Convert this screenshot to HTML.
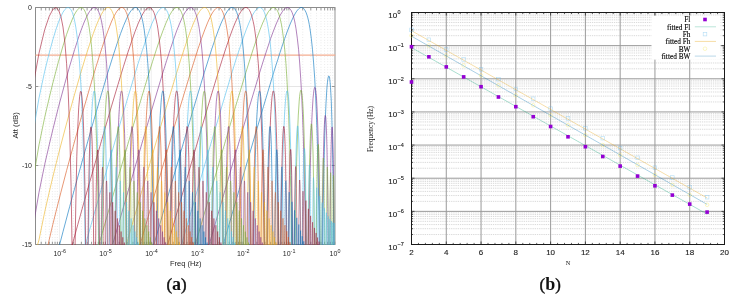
<!DOCTYPE html><html><head><meta charset="utf-8"><style>html,body{margin:0;padding:0;background:#fff;width:732px;height:299px;overflow:hidden;position:relative}</style></head><body><svg width="732" height="299" viewBox="0 0 732 299" style="position:absolute;left:0;top:0;will-change:transform">
<defs><clipPath id="cl"><rect x="35.2" y="7" width="300" height="238"/></clipPath><clipPath id="cr"><rect x="411.5" y="12.5" width="313" height="231.5"/></clipPath></defs>
<line x1="35.5" y1="7.5" x2="35.5" y2="244.5" stroke="#c8c8c8" stroke-width="0.6" stroke-dasharray="0.6 2.1"/><line x1="41.23" y1="7.5" x2="41.23" y2="244.5" stroke="#c8c8c8" stroke-width="0.6" stroke-dasharray="0.6 2.1"/><line x1="45.68" y1="7.5" x2="45.68" y2="244.5" stroke="#c8c8c8" stroke-width="0.6" stroke-dasharray="0.6 2.1"/><line x1="49.31" y1="7.5" x2="49.31" y2="244.5" stroke="#c8c8c8" stroke-width="0.6" stroke-dasharray="0.6 2.1"/><line x1="52.38" y1="7.5" x2="52.38" y2="244.5" stroke="#c8c8c8" stroke-width="0.6" stroke-dasharray="0.6 2.1"/><line x1="55.05" y1="7.5" x2="55.05" y2="244.5" stroke="#c8c8c8" stroke-width="0.6" stroke-dasharray="0.6 2.1"/><line x1="57.39" y1="7.5" x2="57.39" y2="244.5" stroke="#c8c8c8" stroke-width="0.6" stroke-dasharray="0.6 2.1"/><line x1="59.49" y1="7.5" x2="59.49" y2="244.5" stroke="#e6e6e6" stroke-width="0.7"/><line x1="73.3" y1="7.5" x2="73.3" y2="244.5" stroke="#c8c8c8" stroke-width="0.6" stroke-dasharray="0.6 2.1"/><line x1="81.38" y1="7.5" x2="81.38" y2="244.5" stroke="#c8c8c8" stroke-width="0.6" stroke-dasharray="0.6 2.1"/><line x1="87.12" y1="7.5" x2="87.12" y2="244.5" stroke="#c8c8c8" stroke-width="0.6" stroke-dasharray="0.6 2.1"/><line x1="91.56" y1="7.5" x2="91.56" y2="244.5" stroke="#c8c8c8" stroke-width="0.6" stroke-dasharray="0.6 2.1"/><line x1="95.2" y1="7.5" x2="95.2" y2="244.5" stroke="#c8c8c8" stroke-width="0.6" stroke-dasharray="0.6 2.1"/><line x1="98.27" y1="7.5" x2="98.27" y2="244.5" stroke="#c8c8c8" stroke-width="0.6" stroke-dasharray="0.6 2.1"/><line x1="100.93" y1="7.5" x2="100.93" y2="244.5" stroke="#c8c8c8" stroke-width="0.6" stroke-dasharray="0.6 2.1"/><line x1="103.28" y1="7.5" x2="103.28" y2="244.5" stroke="#c8c8c8" stroke-width="0.6" stroke-dasharray="0.6 2.1"/><line x1="105.38" y1="7.5" x2="105.38" y2="244.5" stroke="#e6e6e6" stroke-width="0.7"/><line x1="119.19" y1="7.5" x2="119.19" y2="244.5" stroke="#c8c8c8" stroke-width="0.6" stroke-dasharray="0.6 2.1"/><line x1="127.27" y1="7.5" x2="127.27" y2="244.5" stroke="#c8c8c8" stroke-width="0.6" stroke-dasharray="0.6 2.1"/><line x1="133" y1="7.5" x2="133" y2="244.5" stroke="#c8c8c8" stroke-width="0.6" stroke-dasharray="0.6 2.1"/><line x1="137.45" y1="7.5" x2="137.45" y2="244.5" stroke="#c8c8c8" stroke-width="0.6" stroke-dasharray="0.6 2.1"/><line x1="141.08" y1="7.5" x2="141.08" y2="244.5" stroke="#c8c8c8" stroke-width="0.6" stroke-dasharray="0.6 2.1"/><line x1="144.15" y1="7.5" x2="144.15" y2="244.5" stroke="#c8c8c8" stroke-width="0.6" stroke-dasharray="0.6 2.1"/><line x1="146.81" y1="7.5" x2="146.81" y2="244.5" stroke="#c8c8c8" stroke-width="0.6" stroke-dasharray="0.6 2.1"/><line x1="149.16" y1="7.5" x2="149.16" y2="244.5" stroke="#c8c8c8" stroke-width="0.6" stroke-dasharray="0.6 2.1"/><line x1="151.26" y1="7.5" x2="151.26" y2="244.5" stroke="#e6e6e6" stroke-width="0.7"/><line x1="165.07" y1="7.5" x2="165.07" y2="244.5" stroke="#c8c8c8" stroke-width="0.6" stroke-dasharray="0.6 2.1"/><line x1="173.15" y1="7.5" x2="173.15" y2="244.5" stroke="#c8c8c8" stroke-width="0.6" stroke-dasharray="0.6 2.1"/><line x1="178.89" y1="7.5" x2="178.89" y2="244.5" stroke="#c8c8c8" stroke-width="0.6" stroke-dasharray="0.6 2.1"/><line x1="183.33" y1="7.5" x2="183.33" y2="244.5" stroke="#c8c8c8" stroke-width="0.6" stroke-dasharray="0.6 2.1"/><line x1="186.97" y1="7.5" x2="186.97" y2="244.5" stroke="#c8c8c8" stroke-width="0.6" stroke-dasharray="0.6 2.1"/><line x1="190.04" y1="7.5" x2="190.04" y2="244.5" stroke="#c8c8c8" stroke-width="0.6" stroke-dasharray="0.6 2.1"/><line x1="192.7" y1="7.5" x2="192.7" y2="244.5" stroke="#c8c8c8" stroke-width="0.6" stroke-dasharray="0.6 2.1"/><line x1="195.05" y1="7.5" x2="195.05" y2="244.5" stroke="#c8c8c8" stroke-width="0.6" stroke-dasharray="0.6 2.1"/><line x1="197.15" y1="7.5" x2="197.15" y2="244.5" stroke="#e6e6e6" stroke-width="0.7"/><line x1="210.96" y1="7.5" x2="210.96" y2="244.5" stroke="#c8c8c8" stroke-width="0.6" stroke-dasharray="0.6 2.1"/><line x1="219.04" y1="7.5" x2="219.04" y2="244.5" stroke="#c8c8c8" stroke-width="0.6" stroke-dasharray="0.6 2.1"/><line x1="224.77" y1="7.5" x2="224.77" y2="244.5" stroke="#c8c8c8" stroke-width="0.6" stroke-dasharray="0.6 2.1"/><line x1="229.22" y1="7.5" x2="229.22" y2="244.5" stroke="#c8c8c8" stroke-width="0.6" stroke-dasharray="0.6 2.1"/><line x1="232.85" y1="7.5" x2="232.85" y2="244.5" stroke="#c8c8c8" stroke-width="0.6" stroke-dasharray="0.6 2.1"/><line x1="235.92" y1="7.5" x2="235.92" y2="244.5" stroke="#c8c8c8" stroke-width="0.6" stroke-dasharray="0.6 2.1"/><line x1="238.58" y1="7.5" x2="238.58" y2="244.5" stroke="#c8c8c8" stroke-width="0.6" stroke-dasharray="0.6 2.1"/><line x1="240.93" y1="7.5" x2="240.93" y2="244.5" stroke="#c8c8c8" stroke-width="0.6" stroke-dasharray="0.6 2.1"/><line x1="243.03" y1="7.5" x2="243.03" y2="244.5" stroke="#e6e6e6" stroke-width="0.7"/><line x1="256.84" y1="7.5" x2="256.84" y2="244.5" stroke="#c8c8c8" stroke-width="0.6" stroke-dasharray="0.6 2.1"/><line x1="264.92" y1="7.5" x2="264.92" y2="244.5" stroke="#c8c8c8" stroke-width="0.6" stroke-dasharray="0.6 2.1"/><line x1="270.66" y1="7.5" x2="270.66" y2="244.5" stroke="#c8c8c8" stroke-width="0.6" stroke-dasharray="0.6 2.1"/><line x1="275.1" y1="7.5" x2="275.1" y2="244.5" stroke="#c8c8c8" stroke-width="0.6" stroke-dasharray="0.6 2.1"/><line x1="278.74" y1="7.5" x2="278.74" y2="244.5" stroke="#c8c8c8" stroke-width="0.6" stroke-dasharray="0.6 2.1"/><line x1="281.81" y1="7.5" x2="281.81" y2="244.5" stroke="#c8c8c8" stroke-width="0.6" stroke-dasharray="0.6 2.1"/><line x1="284.47" y1="7.5" x2="284.47" y2="244.5" stroke="#c8c8c8" stroke-width="0.6" stroke-dasharray="0.6 2.1"/><line x1="286.82" y1="7.5" x2="286.82" y2="244.5" stroke="#c8c8c8" stroke-width="0.6" stroke-dasharray="0.6 2.1"/><line x1="288.92" y1="7.5" x2="288.92" y2="244.5" stroke="#e6e6e6" stroke-width="0.7"/><line x1="302.73" y1="7.5" x2="302.73" y2="244.5" stroke="#c8c8c8" stroke-width="0.6" stroke-dasharray="0.6 2.1"/><line x1="310.81" y1="7.5" x2="310.81" y2="244.5" stroke="#c8c8c8" stroke-width="0.6" stroke-dasharray="0.6 2.1"/><line x1="316.54" y1="7.5" x2="316.54" y2="244.5" stroke="#c8c8c8" stroke-width="0.6" stroke-dasharray="0.6 2.1"/><line x1="320.99" y1="7.5" x2="320.99" y2="244.5" stroke="#c8c8c8" stroke-width="0.6" stroke-dasharray="0.6 2.1"/><line x1="324.62" y1="7.5" x2="324.62" y2="244.5" stroke="#c8c8c8" stroke-width="0.6" stroke-dasharray="0.6 2.1"/><line x1="327.69" y1="7.5" x2="327.69" y2="244.5" stroke="#c8c8c8" stroke-width="0.6" stroke-dasharray="0.6 2.1"/><line x1="330.35" y1="7.5" x2="330.35" y2="244.5" stroke="#c8c8c8" stroke-width="0.6" stroke-dasharray="0.6 2.1"/><line x1="332.7" y1="7.5" x2="332.7" y2="244.5" stroke="#c8c8c8" stroke-width="0.6" stroke-dasharray="0.6 2.1"/><line x1="35.5" y1="86.5" x2="334.8" y2="86.5" stroke="#dedede" stroke-width="0.8"/><line x1="35.5" y1="165.5" x2="334.8" y2="165.5" stroke="#dedede" stroke-width="0.8"/>
<g stroke="#8c8c8c" stroke-width="0.9"><path d="M335,7.5H35.5V244.5H335" fill="none" stroke="#8c8c8c" stroke-width="1"/><line x1="335" y1="7.0" x2="335" y2="245.0" stroke="#a6a6a6" stroke-width="1.2"/><line x1="35.5" y1="7.5" x2="35.5" y2="10.3"/><line x1="35.5" y1="244.5" x2="35.5" y2="241.7"/><line x1="41.23" y1="7.5" x2="41.23" y2="10.3"/><line x1="41.23" y1="244.5" x2="41.23" y2="241.7"/><line x1="45.68" y1="7.5" x2="45.68" y2="10.3"/><line x1="45.68" y1="244.5" x2="45.68" y2="241.7"/><line x1="49.31" y1="7.5" x2="49.31" y2="10.3"/><line x1="49.31" y1="244.5" x2="49.31" y2="241.7"/><line x1="52.38" y1="7.5" x2="52.38" y2="10.3"/><line x1="52.38" y1="244.5" x2="52.38" y2="241.7"/><line x1="55.05" y1="7.5" x2="55.05" y2="10.3"/><line x1="55.05" y1="244.5" x2="55.05" y2="241.7"/><line x1="57.39" y1="7.5" x2="57.39" y2="10.3"/><line x1="57.39" y1="244.5" x2="57.39" y2="241.7"/><line x1="59.49" y1="7.5" x2="59.49" y2="10.3"/><line x1="59.49" y1="244.5" x2="59.49" y2="241.7"/><line x1="73.3" y1="7.5" x2="73.3" y2="10.3"/><line x1="73.3" y1="244.5" x2="73.3" y2="241.7"/><line x1="81.38" y1="7.5" x2="81.38" y2="10.3"/><line x1="81.38" y1="244.5" x2="81.38" y2="241.7"/><line x1="87.12" y1="7.5" x2="87.12" y2="10.3"/><line x1="87.12" y1="244.5" x2="87.12" y2="241.7"/><line x1="91.56" y1="7.5" x2="91.56" y2="10.3"/><line x1="91.56" y1="244.5" x2="91.56" y2="241.7"/><line x1="95.2" y1="7.5" x2="95.2" y2="10.3"/><line x1="95.2" y1="244.5" x2="95.2" y2="241.7"/><line x1="98.27" y1="7.5" x2="98.27" y2="10.3"/><line x1="98.27" y1="244.5" x2="98.27" y2="241.7"/><line x1="100.93" y1="7.5" x2="100.93" y2="10.3"/><line x1="100.93" y1="244.5" x2="100.93" y2="241.7"/><line x1="103.28" y1="7.5" x2="103.28" y2="10.3"/><line x1="103.28" y1="244.5" x2="103.28" y2="241.7"/><line x1="105.38" y1="7.5" x2="105.38" y2="10.3"/><line x1="105.38" y1="244.5" x2="105.38" y2="241.7"/><line x1="119.19" y1="7.5" x2="119.19" y2="10.3"/><line x1="119.19" y1="244.5" x2="119.19" y2="241.7"/><line x1="127.27" y1="7.5" x2="127.27" y2="10.3"/><line x1="127.27" y1="244.5" x2="127.27" y2="241.7"/><line x1="133" y1="7.5" x2="133" y2="10.3"/><line x1="133" y1="244.5" x2="133" y2="241.7"/><line x1="137.45" y1="7.5" x2="137.45" y2="10.3"/><line x1="137.45" y1="244.5" x2="137.45" y2="241.7"/><line x1="141.08" y1="7.5" x2="141.08" y2="10.3"/><line x1="141.08" y1="244.5" x2="141.08" y2="241.7"/><line x1="144.15" y1="7.5" x2="144.15" y2="10.3"/><line x1="144.15" y1="244.5" x2="144.15" y2="241.7"/><line x1="146.81" y1="7.5" x2="146.81" y2="10.3"/><line x1="146.81" y1="244.5" x2="146.81" y2="241.7"/><line x1="149.16" y1="7.5" x2="149.16" y2="10.3"/><line x1="149.16" y1="244.5" x2="149.16" y2="241.7"/><line x1="151.26" y1="7.5" x2="151.26" y2="10.3"/><line x1="151.26" y1="244.5" x2="151.26" y2="241.7"/><line x1="165.07" y1="7.5" x2="165.07" y2="10.3"/><line x1="165.07" y1="244.5" x2="165.07" y2="241.7"/><line x1="173.15" y1="7.5" x2="173.15" y2="10.3"/><line x1="173.15" y1="244.5" x2="173.15" y2="241.7"/><line x1="178.89" y1="7.5" x2="178.89" y2="10.3"/><line x1="178.89" y1="244.5" x2="178.89" y2="241.7"/><line x1="183.33" y1="7.5" x2="183.33" y2="10.3"/><line x1="183.33" y1="244.5" x2="183.33" y2="241.7"/><line x1="186.97" y1="7.5" x2="186.97" y2="10.3"/><line x1="186.97" y1="244.5" x2="186.97" y2="241.7"/><line x1="190.04" y1="7.5" x2="190.04" y2="10.3"/><line x1="190.04" y1="244.5" x2="190.04" y2="241.7"/><line x1="192.7" y1="7.5" x2="192.7" y2="10.3"/><line x1="192.7" y1="244.5" x2="192.7" y2="241.7"/><line x1="195.05" y1="7.5" x2="195.05" y2="10.3"/><line x1="195.05" y1="244.5" x2="195.05" y2="241.7"/><line x1="197.15" y1="7.5" x2="197.15" y2="10.3"/><line x1="197.15" y1="244.5" x2="197.15" y2="241.7"/><line x1="210.96" y1="7.5" x2="210.96" y2="10.3"/><line x1="210.96" y1="244.5" x2="210.96" y2="241.7"/><line x1="219.04" y1="7.5" x2="219.04" y2="10.3"/><line x1="219.04" y1="244.5" x2="219.04" y2="241.7"/><line x1="224.77" y1="7.5" x2="224.77" y2="10.3"/><line x1="224.77" y1="244.5" x2="224.77" y2="241.7"/><line x1="229.22" y1="7.5" x2="229.22" y2="10.3"/><line x1="229.22" y1="244.5" x2="229.22" y2="241.7"/><line x1="232.85" y1="7.5" x2="232.85" y2="10.3"/><line x1="232.85" y1="244.5" x2="232.85" y2="241.7"/><line x1="235.92" y1="7.5" x2="235.92" y2="10.3"/><line x1="235.92" y1="244.5" x2="235.92" y2="241.7"/><line x1="238.58" y1="7.5" x2="238.58" y2="10.3"/><line x1="238.58" y1="244.5" x2="238.58" y2="241.7"/><line x1="240.93" y1="7.5" x2="240.93" y2="10.3"/><line x1="240.93" y1="244.5" x2="240.93" y2="241.7"/><line x1="243.03" y1="7.5" x2="243.03" y2="10.3"/><line x1="243.03" y1="244.5" x2="243.03" y2="241.7"/><line x1="256.84" y1="7.5" x2="256.84" y2="10.3"/><line x1="256.84" y1="244.5" x2="256.84" y2="241.7"/><line x1="264.92" y1="7.5" x2="264.92" y2="10.3"/><line x1="264.92" y1="244.5" x2="264.92" y2="241.7"/><line x1="270.66" y1="7.5" x2="270.66" y2="10.3"/><line x1="270.66" y1="244.5" x2="270.66" y2="241.7"/><line x1="275.1" y1="7.5" x2="275.1" y2="10.3"/><line x1="275.1" y1="244.5" x2="275.1" y2="241.7"/><line x1="278.74" y1="7.5" x2="278.74" y2="10.3"/><line x1="278.74" y1="244.5" x2="278.74" y2="241.7"/><line x1="281.81" y1="7.5" x2="281.81" y2="10.3"/><line x1="281.81" y1="244.5" x2="281.81" y2="241.7"/><line x1="284.47" y1="7.5" x2="284.47" y2="10.3"/><line x1="284.47" y1="244.5" x2="284.47" y2="241.7"/><line x1="286.82" y1="7.5" x2="286.82" y2="10.3"/><line x1="286.82" y1="244.5" x2="286.82" y2="241.7"/><line x1="288.92" y1="7.5" x2="288.92" y2="10.3"/><line x1="288.92" y1="244.5" x2="288.92" y2="241.7"/><line x1="302.73" y1="7.5" x2="302.73" y2="10.3"/><line x1="302.73" y1="244.5" x2="302.73" y2="241.7"/><line x1="310.81" y1="7.5" x2="310.81" y2="10.3"/><line x1="310.81" y1="244.5" x2="310.81" y2="241.7"/><line x1="316.54" y1="7.5" x2="316.54" y2="10.3"/><line x1="316.54" y1="244.5" x2="316.54" y2="241.7"/><line x1="320.99" y1="7.5" x2="320.99" y2="10.3"/><line x1="320.99" y1="244.5" x2="320.99" y2="241.7"/><line x1="324.62" y1="7.5" x2="324.62" y2="10.3"/><line x1="324.62" y1="244.5" x2="324.62" y2="241.7"/><line x1="327.69" y1="7.5" x2="327.69" y2="10.3"/><line x1="327.69" y1="244.5" x2="327.69" y2="241.7"/><line x1="330.35" y1="7.5" x2="330.35" y2="10.3"/><line x1="330.35" y1="244.5" x2="330.35" y2="241.7"/><line x1="332.7" y1="7.5" x2="332.7" y2="10.3"/><line x1="332.7" y1="244.5" x2="332.7" y2="241.7"/><line x1="334.8" y1="7.5" x2="334.8" y2="10.3"/><line x1="334.8" y1="244.5" x2="334.8" y2="241.7"/><line x1="35.5" y1="7.5" x2="38.3" y2="7.5"/><line x1="334.8" y1="7.5" x2="332.0" y2="7.5"/><line x1="35.5" y1="86.5" x2="38.3" y2="86.5"/><line x1="334.8" y1="86.5" x2="332.0" y2="86.5"/><line x1="35.5" y1="165.5" x2="38.3" y2="165.5"/><line x1="334.8" y1="165.5" x2="332.0" y2="165.5"/><line x1="35.5" y1="244.5" x2="38.3" y2="244.5"/><line x1="334.8" y1="244.5" x2="332.0" y2="244.5"/></g>
<line x1="35.5" y1="55.2" x2="335.3" y2="55.2" stroke="#f3ad90" stroke-width="1.25"/>
<g clip-path="url(#cl)" fill="none" stroke-linejoin="round">
<path stroke="#0072BD" stroke-width="0.6" d="M222.3,247.7 249.2,155.2 263.5,106.4 273.6,72.7 277.7,59.8 281.2,48.9 284.7,38.6 287.8,30.0 290.6,23.0 293.2,17.3 294.4,15.0 295.5,13.0 296.6,11.3 297.7,9.9 298.7,8.9 299.6,8.1 300.6,7.6 301.5,7.5 302.0,7.6 302.5,7.7 303.5,8.3 304.4,9.4 305.3,10.9 306.2,12.8 307.0,15.1 307.8,17.8 308.6,21.0 309.3,24.7 310.0,28.8 311.3,38.3 312.5,49.7 313.6,62.9 314.7,78.2 315.6,95.5 316.4,115.0 317.2,136.5 317.8,161.0 318.4,187.2 318.9,215.7 319.4,247.7 M322.6,248.5 323.1,211.6 323.7,178.2 324.4,148.7 325.1,123.8 326.0,103.2 326.9,88.2 327.4,82.8 327.9,78.9 328.4,76.6 328.6,76.0 328.8,75.9 329.1,76.1 329.3,76.6 329.7,78.8 330.1,82.4 330.5,87.3 331.3,101.2 331.9,120.8 332.5,145.8 333.0,174.9 333.5,208.7 333.8,249.2"/>
<path stroke="#0072BD" stroke-width="0.45" stroke-opacity="1" d=""/>
<path stroke="#7E2F8E" stroke-width="0.6" d="M208.3,247.7 235.1,155.3 249.5,106.5 259.6,72.8 263.6,59.9 267.2,48.9 270.6,38.6 273.8,30.0 276.6,23.0 279.1,17.4 280.3,15.0 281.5,13.0 282.6,11.3 283.6,9.9 284.6,8.9 285.6,8.1 286.6,7.7 287.5,7.5 288.0,7.6 288.5,7.7 289.5,8.3 290.4,9.4 291.3,10.8 292.2,12.7 293.0,15.0 293.8,17.8 294.6,20.9 295.3,24.6 296.0,28.6 297.3,38.2 298.6,49.7 299.7,63.0 300.7,78.2 301.7,95.6 302.5,114.9 303.3,136.6 303.9,160.7 304.5,187.3 305.1,216.4 305.5,247.7 M308.8,248.1 309.3,213.0 309.9,182.1 310.6,155.2 311.3,131.7 312.2,112.5 313.0,98.7 313.5,93.8 313.9,90.2 314.4,88.1 314.6,87.5 314.8,87.4 315.1,87.6 315.3,88.0 315.7,90.1 316.1,93.3 316.5,98.0 317.2,111.2 317.9,129.5 318.5,152.5 319.0,180.0 319.5,211.6 319.8,248.8 M322.1,249.3 322.7,192.9 323.5,151.4 323.9,135.8 324.4,124.6 324.8,117.9 325.1,116.1 325.2,115.7 325.3,115.5 325.5,116.1 325.8,117.6 326.2,124.2 326.6,135.1 327.0,150.0 327.7,191.4 328.2,248.8 M329.9,248.3 330.4,196.3 330.9,158.8 331.2,144.8 331.5,135.0 331.8,128.9 332.0,127.4 332.1,127.0 332.3,127.6 332.4,129.3 332.7,135.7 333.0,145.8 333.3,159.6 333.7,197.9 334.1,249.0"/>
<path stroke="#7E2F8E" stroke-width="0.45" stroke-opacity="1" d=""/>
<path stroke="#77AC30" stroke-width="0.6" d="M194.4,247.7 221.3,155.2 235.6,106.4 245.8,72.7 249.8,59.8 253.3,48.8 256.8,38.6 259.9,30.0 262.7,23.0 265.3,17.3 266.5,15.0 267.6,13.0 268.7,11.3 269.8,9.9 270.8,8.9 271.8,8.1 272.7,7.6 273.6,7.5 274.1,7.6 274.6,7.7 275.6,8.3 276.6,9.4 277.5,10.9 278.3,12.7 279.2,15.1 280.0,17.9 280.7,21.1 281.5,24.8 282.2,28.8 283.5,38.4 284.8,50.0 285.9,63.3 286.9,78.6 287.8,96.0 288.7,115.4 289.4,137.1 290.1,161.2 290.7,187.7 291.2,216.8 291.7,248.0 M295.0,248.5 295.5,213.7 296.1,183.1 296.8,156.4 297.5,133.7 298.3,115.1 299.2,101.2 299.6,96.4 300.1,92.8 300.5,90.8 300.8,90.3 301.0,90.1 301.2,90.3 301.4,90.7 301.8,92.7 302.2,96.0 302.6,100.6 303.4,113.6 304.0,131.1 304.6,153.5 305.1,180.2 305.6,212.1 306.0,248.1 M308.3,249.2 308.9,197.0 309.7,157.8 310.1,143.2 310.5,132.6 311.0,126.1 311.2,124.4 311.5,123.9 311.6,124.0 311.7,124.4 311.9,125.9 312.3,132.0 312.7,141.9 313.1,156.0 313.8,195.1 314.3,248.0 M316.2,248.9 316.6,206.0 317.1,172.4 317.4,160.0 317.7,151.5 317.9,146.3 318.1,144.8 318.2,144.4 318.4,144.9 318.5,146.2 318.8,151.4 319.3,171.9 319.8,203.8 320.2,249.3"/>
<path stroke="#77AC30" stroke-width="0.45" stroke-opacity="1" d="M321.8,247.9 322.1,210.8 322.5,182.2 322.9,164.3 323.1,159.8 323.2,158.6 323.3,158.0 323.4,158.4 323.5,159.6 323.7,164.0 324.1,181.5 324.4,210.1 324.7,248.0 M326.1,248.3 326.4,214.6 326.7,189.0 327.0,172.5 327.1,168.4 327.3,167.1 327.5,168.3 327.6,172.3 327.9,188.1 328.2,212.7 328.4,248.9 M329.7,250.1 330.1,192.9 330.4,177.7 330.5,174.2 330.6,172.7 330.8,174.0 330.9,177.5 331.1,191.7 331.6,248.4 M332.7,250.1 333.1,194.5 333.3,180.1 333.4,176.8 333.5,175.4 333.6,176.7 333.7,180.0 333.9,195.1 334.3,252.0"/>
<path stroke="#4DBEEE" stroke-width="0.6" d="M180.6,247.7 207.4,155.6 221.8,106.5 231.9,72.7 235.9,59.8 239.5,48.9 243.0,38.6 246.1,30.0 248.9,23.0 251.4,17.3 252.6,15.0 253.8,13.0 254.9,11.3 255.9,9.9 257.0,8.9 257.9,8.1 258.9,7.7 259.8,7.5 260.3,7.6 260.8,7.7 261.8,8.3 262.7,9.4 263.6,10.8 264.5,12.7 265.3,15.0 266.1,17.8 266.9,21.0 267.6,24.7 268.3,28.7 269.7,38.3 270.9,49.8 272.0,63.1 273.1,78.6 274.0,96.0 274.9,115.4 275.6,137.0 276.3,161.1 276.9,187.6 277.4,216.5 277.9,247.7 M281.2,247.8 281.7,213.3 282.3,182.9 283.0,156.4 283.7,133.8 284.5,115.3 285.4,101.9 285.8,97.1 286.3,93.5 286.7,91.4 286.9,90.9 287.2,90.8 287.4,90.9 287.6,91.4 288.0,93.4 288.4,96.6 288.8,101.1 289.5,113.9 290.2,131.8 290.8,154.2 291.3,180.8 291.8,212.6 292.2,248.4 M294.5,249.2 295.1,197.7 295.9,158.9 296.3,144.6 296.7,134.2 297.2,128.1 297.4,126.4 297.5,126.0 297.6,125.9 297.9,126.4 298.1,127.9 298.5,134.0 298.9,144.0 299.3,158.0 299.9,197.0 300.5,249.7 M302.4,248.0 302.8,205.1 303.3,174.3 303.9,155.0 304.1,150.1 304.3,148.8 304.4,148.4 304.6,148.9 304.7,150.3 305.0,155.5 305.5,174.9 305.9,206.0 306.3,250.1"/>
<path stroke="#4DBEEE" stroke-width="0.45" stroke-opacity="1" d="M308.0,248.9 308.3,213.7 308.7,186.6 309.1,170.5 309.3,166.3 309.5,164.8 309.6,165.2 309.7,166.2 309.9,170.3 310.2,186.0 310.6,212.9 310.8,248.3 M312.4,249.0 312.6,218.4 312.9,196.5 313.2,182.2 313.3,178.8 313.5,177.5 313.6,178.8 313.8,182.2 314.1,195.9 314.3,218.7 314.5,248.8 M315.9,250.5 316.3,204.6 316.6,191.8 316.7,188.7 316.8,187.6 316.9,188.7 317.1,191.9 317.3,203.8 317.7,248.4 M319.0,250.8 319.3,211.3 319.5,200.4 319.7,195.9 319.8,196.5 319.9,199.1 320.0,209.1 320.4,247.9 M321.6,250.6 321.9,215.1 322.0,205.6 322.2,202.6 322.3,206.0 322.5,214.5 322.8,251.1 M323.9,248.9 324.1,218.3 324.3,211.0 324.4,208.2 324.5,211.5 324.7,219.4 324.9,249.0 M326.0,250.3 326.2,221.1 326.3,215.0 326.4,212.7 326.5,215.9 326.6,222.9 326.8,251.4 M327.8,248.3 328.0,224.1 328.1,217.9 328.2,216.3 328.4,225.1 328.6,251.3 M329.5,249.6 329.7,226.7 329.8,221.2 329.9,219.1 330.0,227.2 330.2,251.3 M331.1,251.4 331.2,229.5 331.4,221.1 331.6,229.0 331.7,251.1 M332.6,249.6 332.7,228.4 332.8,222.5 333.0,231.0 333.1,251.4 M333.9,251.9 334.0,231.0 334.2,223.1 334.3,229.4 334.4,249.2"/>
<path stroke="#A2142F" stroke-width="0.6" d="M166.8,247.7 193.5,155.9 207.9,106.5 218.1,72.7 222.2,59.7 225.7,48.8 229.2,38.5 232.3,29.9 235.1,22.9 237.7,17.3 238.9,14.9 240.0,13.0 241.1,11.3 242.2,9.9 243.2,8.8 244.2,8.1 245.1,7.6 246.0,7.5 246.5,7.6 247.0,7.7 248.0,8.4 248.9,9.4 249.8,10.9 250.7,12.8 251.5,15.1 252.3,17.9 253.1,21.2 253.9,24.9 254.6,28.9 255.9,38.6 257.1,50.2 258.3,63.5 259.3,78.8 260.2,96.3 261.1,115.7 261.8,137.4 262.5,161.6 263.1,188.3 263.6,217.4 264.1,248.7 M267.4,248.5 267.9,213.9 268.5,183.3 269.1,156.8 269.9,134.1 270.7,115.6 271.6,102.1 272.0,97.3 272.5,93.7 272.9,91.6 273.1,91.1 273.3,90.9 273.6,91.1 273.8,91.6 274.2,93.5 274.6,96.8 275.0,101.2 275.7,113.9 276.4,131.8 277.0,154.1 277.5,180.6 278.0,212.3 278.3,247.9 M280.7,248.2 281.3,197.2 282.1,158.9 282.5,144.7 282.9,134.5 283.4,128.4 283.6,126.8 283.7,126.4 283.8,126.4 284.1,127.0 284.3,128.6 284.7,134.8 285.1,145.0 285.5,159.2 286.1,197.1 286.6,249.4 M288.6,249.7 289.0,206.5 289.5,175.6 290.0,156.1 290.3,151.2 290.5,149.8 290.6,149.4 290.8,149.9 290.9,151.2 291.2,156.4 291.7,175.6 292.1,206.5 292.5,250.3"/>
<path stroke="#A2142F" stroke-width="0.45" stroke-opacity="1" d="M294.2,248.6 294.5,214.0 294.9,187.4 295.3,171.7 295.5,167.8 295.6,166.8 295.7,166.5 295.9,168.0 296.1,172.4 296.4,188.5 296.7,214.0 297.0,249.1 M298.6,249.3 298.8,219.4 299.1,198.1 299.4,184.2 299.5,181.1 299.7,180.0 299.8,181.3 300.0,184.6 300.2,198.1 300.5,220.7 300.7,250.3 M302.2,248.5 302.6,205.6 302.8,194.8 302.9,192.0 303.0,191.2 303.2,195.3 303.5,206.9 303.8,251.0 M305.2,249.7 305.5,213.4 305.7,203.8 305.9,200.6 306.0,203.7 306.2,213.5 306.5,248.3 M307.8,250.7 308.1,220.0 308.2,211.9 308.4,208.8 308.5,211.2 308.6,218.8 308.9,249.1 M310.1,250.6 310.3,224.8 310.5,218.1 310.6,215.9 310.7,218.2 310.8,223.6 311.0,248.8 M312.2,250.2 312.4,229.5 312.5,223.9 312.6,222.2 312.8,228.8 312.9,249.2 M314.1,250.5 314.2,234.4 314.4,227.9 314.5,233.0 314.7,248.0 M315.8,247.7 315.9,236.3 316.1,232.9 316.2,237.3 316.3,250.0 M317.4,248.6 317.5,239.8 317.6,237.5 317.8,249.4 M318.9,247.9 319.0,241.6 319.2,249.6 M320.3,248.0 320.3,245.3 320.4,247.8"/>
<path stroke="#0072BD" stroke-width="0.6" d="M153.0,247.7 179.4,156.7 194.0,106.8 204.2,72.9 208.3,59.9 211.8,48.9 215.3,38.6 218.4,30.1 221.2,23.0 223.8,17.4 225.0,15.0 226.2,13.0 227.3,11.3 228.3,9.9 229.3,8.9 230.3,8.1 231.3,7.6 232.2,7.5 232.7,7.6 233.2,7.7 234.2,8.3 235.1,9.4 236.0,10.8 236.9,12.7 237.7,15.1 238.5,17.8 239.3,21.1 240.0,24.7 240.7,28.8 242.1,38.4 243.3,49.9 244.4,63.2 245.5,78.7 246.4,96.2 247.2,115.5 248.0,137.2 248.7,161.3 249.3,187.9 249.8,216.9 250.2,248.2 M253.6,249.1 254.1,214.3 254.7,183.7 255.3,157.1 256.1,134.4 256.9,115.8 257.8,102.0 258.2,97.2 258.7,93.7 259.1,91.6 259.3,91.1 259.5,91.0 259.8,91.2 260.0,91.6 260.4,93.7 260.8,96.9 261.2,101.6 261.9,114.7 262.6,132.3 263.2,154.7 263.7,181.4 264.2,213.4 264.5,249.4 M266.9,249.1 267.5,197.8 268.3,159.2 268.7,145.6 269.1,135.1 269.5,128.8 269.8,127.1 270.0,126.5 270.1,126.6 270.2,127.0 270.4,128.5 270.9,134.4 271.3,144.3 271.6,158.1 272.3,196.7 272.8,248.6 M274.8,248.3 275.2,205.7 275.7,175.2 276.2,156.1 276.5,151.3 276.7,150.1 276.8,149.7 276.9,150.1 277.1,151.4 277.4,156.5 277.9,175.5 278.3,206.1 278.7,249.5"/>
<path stroke="#0072BD" stroke-width="0.45" stroke-opacity="1" d="M280.4,250.0 280.7,215.0 281.0,189.4 281.4,172.9 281.6,168.5 281.8,166.9 281.9,167.2 282.0,168.1 282.2,172.1 282.6,187.3 282.9,213.7 283.2,248.4 M284.8,248.0 285.0,218.7 285.3,197.9 285.6,185.1 285.7,181.8 285.9,180.7 286.0,181.8 286.1,185.0 286.4,198.3 286.7,220.5 286.9,249.8 M288.3,250.4 288.7,207.0 289.0,195.9 289.1,192.9 289.2,192.1 289.3,193.3 289.4,195.9 289.6,207.3 290.0,250.7 M291.4,248.7 291.7,213.6 291.9,205.2 292.0,201.8 292.2,204.6 292.4,214.1 292.7,248.3 M294.0,250.1 294.3,220.5 294.4,212.9 294.5,210.3 294.7,212.5 294.8,219.8 295.1,249.5 M296.3,250.4 296.5,225.7 296.6,220.2 296.8,217.8 296.9,219.8 297.0,225.0 297.2,249.6 M298.4,250.5 298.6,230.8 298.8,224.5 298.9,230.6 299.1,250.4 M300.3,248.5 300.4,234.8 300.6,230.6 300.7,235.3 300.9,249.7 M302.0,249.3 302.1,240.0 302.2,236.2 302.4,240.1 302.5,249.7 M303.6,248.7 303.8,241.3 303.9,248.0 M305.1,248.2 305.2,246.0 305.3,248.4"/>
<path stroke="#D95319" stroke-width="0.6" d="M139.2,247.7 165.1,158.3 180.1,107.1 190.4,73.0 194.5,60.0 198.0,48.9 201.5,38.6 204.7,30.0 207.5,22.9 210.0,17.3 211.2,15.0 212.4,12.9 213.5,11.3 214.5,9.9 215.6,8.8 216.5,8.1 217.5,7.6 218.4,7.5 218.9,7.6 219.4,7.7 220.4,8.4 221.3,9.4 222.2,10.9 223.1,12.8 223.9,15.2 224.7,17.9 225.5,21.2 226.2,24.9 226.9,29.0 228.3,38.6 229.5,50.2 230.6,63.6 231.7,78.9 232.6,96.4 233.4,115.9 234.2,137.6 234.9,161.8 235.5,188.5 236.0,217.7 236.4,249.2 M239.8,248.1 240.3,213.6 240.9,183.1 241.5,156.6 242.3,134.0 243.1,115.5 243.9,102.1 244.4,97.3 244.8,93.7 245.3,91.7 245.5,91.1 245.7,91.0 245.9,91.2 246.1,91.6 246.6,93.6 247.0,96.9 247.3,101.3 248.1,114.1 248.8,132.0 249.4,154.4 249.9,181.0 250.3,212.8 250.7,248.6 M253.1,247.8 253.7,197.0 254.5,158.8 254.9,144.7 255.3,134.9 255.7,128.7 256.0,127.0 256.1,126.6 256.2,126.5 256.4,127.0 256.6,128.6 257.1,134.7 257.5,144.7 257.8,157.9 258.5,196.1 259.0,247.7 M261.0,249.3 261.4,208.0 261.9,176.6 262.4,156.8 262.7,151.6 262.8,150.2 263.0,149.7 263.1,150.1 263.3,151.3 263.5,156.4 264.0,175.2 264.5,205.6 264.9,248.5"/>
<path stroke="#D95319" stroke-width="0.45" stroke-opacity="1" d="M266.6,248.3 266.9,213.9 267.3,187.6 267.6,172.1 267.8,168.2 267.9,167.3 268.0,167.0 268.2,168.6 268.4,173.1 268.8,189.4 269.1,215.1 269.4,250.5 M271.0,249.2 271.2,219.6 271.5,198.5 271.7,185.4 271.9,182.1 272.0,180.8 272.2,181.8 272.3,184.9 272.6,198.0 272.9,219.9 273.1,248.8 M274.5,248.7 274.9,206.3 275.2,195.7 275.3,193.3 275.4,192.3 275.5,193.3 275.6,195.9 275.8,207.0 276.2,249.7 M277.6,250.2 277.9,214.4 278.1,205.0 278.2,202.1 278.4,205.4 278.6,215.4 278.9,250.7 M280.2,248.4 280.5,220.0 280.6,212.9 280.7,210.7 280.9,213.3 281.0,221.1 281.3,248.7 M282.5,248.9 282.7,225.3 282.8,220.2 283.0,218.3 283.1,220.8 283.2,226.4 283.4,248.9 M284.6,249.1 284.8,230.5 284.9,226.6 285.0,225.1 285.1,232.1 285.3,249.9 M286.5,250.1 286.6,236.0 286.8,231.3 286.9,235.5 287.0,249.4 M288.2,248.6 288.3,240.0 288.4,237.0 288.6,249.6 M289.8,248.5 290.0,242.2 290.1,248.3 M291.3,247.8 291.4,247.1 291.4,248.1"/>
<path stroke="#EDB120" stroke-width="0.6" d="M125.4,247.7 150.5,161.3 166.1,107.9 176.5,73.3 180.6,60.1 184.2,49.0 187.7,38.6 190.8,30.0 193.6,23.0 196.2,17.3 197.4,15.0 198.6,13.0 199.7,11.3 200.7,9.9 201.7,8.8 202.7,8.1 203.7,7.6 204.6,7.5 205.1,7.6 205.6,7.7 206.6,8.4 207.5,9.4 208.4,10.9 209.3,12.8 210.1,15.1 210.9,17.9 211.7,21.2 212.4,24.9 213.1,28.9 214.5,38.6 215.7,50.2 216.8,63.5 217.8,78.8 218.8,96.3 219.6,115.7 220.4,137.4 221.1,161.5 221.7,188.2 222.2,217.2 222.6,248.5 M226.0,248.8 226.5,214.1 227.0,183.5 227.7,156.9 228.4,134.2 229.3,115.7 230.1,102.2 230.6,97.4 231.0,93.8 231.5,91.7 231.7,91.2 231.9,91.0 232.1,91.1 232.3,91.6 232.7,93.6 233.1,96.8 233.5,101.2 234.3,114.0 234.9,131.8 235.5,154.1 236.1,180.5 236.5,212.2 236.9,247.7 M239.3,248.6 239.9,197.5 240.6,159.1 241.1,144.9 241.5,134.6 241.9,128.6 242.2,127.0 242.3,126.6 242.4,126.5 242.6,127.1 242.8,128.7 243.3,134.9 243.7,145.1 244.0,159.3 244.7,197.1 245.2,249.3 M247.2,247.7 247.6,205.3 248.1,175.0 248.6,156.0 248.9,151.3 249.0,150.1 249.2,149.8 249.3,150.2 249.5,151.5 249.7,156.7 250.2,175.9 250.7,206.7 251.1,250.3"/>
<path stroke="#EDB120" stroke-width="0.45" stroke-opacity="1" d="M252.8,249.3 253.1,214.7 253.4,188.0 253.8,172.3 254.0,168.3 254.1,167.3 254.2,167.1 254.4,168.6 254.6,172.9 255.0,189.0 255.3,214.4 255.6,249.4 M257.1,250.4 257.4,220.3 257.6,199.0 257.9,185.7 258.1,182.3 258.2,180.9 258.4,181.8 258.5,184.8 258.8,197.5 259.0,219.2 259.3,247.7 M260.7,249.9 261.1,206.9 261.3,196.0 261.4,193.5 261.6,192.3 261.7,193.3 261.8,195.7 262.0,206.6 262.4,248.5 M263.8,248.3 264.1,213.6 264.2,205.4 264.4,202.2 264.6,205.2 264.8,214.9 265.1,249.6 M266.4,249.7 266.6,220.6 266.8,213.2 266.9,210.7 267.1,213.1 267.2,220.6 267.5,250.8 M268.7,250.1 268.9,225.9 269.0,220.6 269.1,218.4 269.3,220.6 269.4,226.0 269.6,247.9 M270.8,250.4 271.0,231.2 271.1,225.2 271.3,231.7 271.5,248.9 M272.7,248.6 272.8,235.4 273.0,231.5 273.1,236.5 273.2,248.6 M274.4,249.7 274.5,240.7 274.6,237.2 274.8,248.9 M276.0,249.4 276.1,242.5 276.3,247.9 M277.5,247.7 277.6,247.4 277.6,248.1"/>
<path stroke="#7E2F8E" stroke-width="0.6" d="M111.7,247.7 135.1,166.9 151.8,109.6 162.4,74.1 166.6,60.7 170.3,49.2 173.8,38.9 176.9,30.2 179.8,23.1 182.3,17.4 183.5,15.1 184.7,13.0 185.8,11.3 186.9,10.0 187.9,8.9 188.9,8.1 189.8,7.7 190.7,7.5 191.2,7.6 191.7,7.7 192.7,8.3 193.7,9.4 194.6,10.8 195.4,12.7 196.3,15.1 197.1,17.8 197.8,21.1 198.6,24.7 199.3,28.7 200.6,38.3 201.9,49.9 203.0,63.1 204.0,78.6 205.0,96.1 205.8,115.5 206.6,137.1 207.2,161.2 207.8,187.8 208.4,216.7 208.8,247.9 M212.2,247.8 212.7,213.3 213.2,182.9 213.9,156.5 214.6,133.9 215.5,115.4 216.3,101.8 216.8,97.1 217.2,93.6 217.7,91.6 217.9,91.1 218.1,91.0 218.3,91.2 218.5,91.7 219.0,93.8 219.4,97.1 219.7,101.6 220.5,114.7 221.1,132.2 221.7,154.6 222.3,181.3 222.7,213.2 223.1,249.1 M225.5,249.4 226.1,198.0 226.8,159.4 227.2,145.7 227.7,135.2 228.1,128.9 228.3,127.1 228.6,126.5 228.7,126.7 228.8,127.0 229.0,128.5 229.4,134.4 229.8,144.2 230.2,158.1 230.9,196.5 231.4,248.3 M233.4,248.7 233.8,207.6 234.2,176.4 234.8,156.7 235.1,151.6 235.2,150.2 235.4,149.8 235.5,150.2 235.6,151.4 235.9,156.5 236.4,175.5 236.9,206.0 237.2,249.3"/>
<path stroke="#7E2F8E" stroke-width="0.45" stroke-opacity="1" d="M239.0,250.4 239.3,215.4 239.6,189.6 240.0,173.1 240.2,168.7 240.4,167.1 240.5,167.3 240.6,168.2 240.8,172.2 241.1,187.4 241.5,213.7 241.8,248.2 M243.3,248.5 243.6,219.1 243.8,198.2 244.1,185.3 244.3,182.1 244.4,180.9 244.6,182.0 244.7,185.1 245.0,198.3 245.2,220.5 245.5,249.7 M246.9,247.9 247.3,206.1 247.5,195.6 247.6,193.3 247.8,192.3 247.9,193.5 248.0,196.1 248.2,207.5 248.6,250.6 M249.9,249.4 250.3,214.1 250.4,205.6 250.6,202.2 250.7,202.9 250.8,205.0 251.0,214.4 251.3,248.4 M252.6,247.7 252.8,219.8 253.0,212.8 253.1,210.8 253.3,213.6 253.4,221.6 253.6,249.6 M254.9,248.2 255.1,225.1 255.2,220.2 255.3,218.4 255.5,221.1 255.6,226.9 255.8,249.8 M257.0,248.6 257.1,231.7 257.3,225.3 257.5,231.2 257.7,247.9 M258.9,249.6 259.0,235.9 259.1,231.5 259.3,236.1 259.4,247.7 M260.6,248.2 260.7,240.0 260.8,237.2 260.9,239.8 261.0,248.1 M262.2,248.3 262.3,242.5 262.5,249.1 M263.7,248.0 263.8,247.4 263.8,248.0"/>
<path stroke="#77AC30" stroke-width="0.6" d="M98.0,247.7 118.7,175.7 137.0,112.9 148.2,75.5 152.6,61.4 156.4,49.5 159.9,39.1 163.1,30.3 165.9,23.2 168.5,17.4 169.7,15.1 170.9,13.1 172.0,11.3 173.1,9.9 174.1,8.9 175.1,8.1 176.0,7.6 176.9,7.5 177.5,7.6 178.0,7.7 178.9,8.4 179.9,9.4 180.8,10.9 181.6,12.8 182.5,15.1 183.3,17.9 184.1,21.2 184.8,24.9 185.5,28.9 186.8,38.6 188.1,50.2 189.2,63.6 190.2,78.8 191.2,96.3 192.0,115.7 192.8,137.5 193.4,161.6 194.0,188.3 194.6,217.4 195.0,248.8 M198.3,248.5 198.8,213.8 199.4,183.3 200.1,156.8 200.8,134.1 201.6,115.6 202.5,102.1 202.9,97.3 203.4,93.7 203.8,91.7 204.1,91.2 204.3,91.0 204.5,91.2 204.7,91.6 205.1,93.6 205.5,96.8 205.9,101.2 206.6,114.1 207.3,131.9 207.9,154.3 208.4,180.8 208.9,212.6 209.3,248.2 M211.7,248.1 212.3,197.2 213.0,158.9 213.4,144.8 213.9,134.6 214.3,128.5 214.6,127.0 214.7,126.6 214.8,126.5 215.0,127.1 215.2,128.8 215.6,135.0 216.0,145.2 216.4,159.5 217.1,197.5 217.6,249.9 M219.5,249.7 219.9,208.2 220.4,176.7 221.0,156.8 221.2,151.7 221.4,150.2 221.5,149.8 221.7,150.1 221.8,151.3 222.1,156.3 222.6,175.1 223.0,205.4 223.4,248.2"/>
<path stroke="#77AC30" stroke-width="0.45" stroke-opacity="1" d="M225.2,248.7 225.5,214.2 225.8,187.8 226.2,172.2 226.4,168.3 226.5,167.3 226.6,167.1 226.8,168.6 227.0,173.1 227.4,189.3 227.7,214.9 228.0,250.1 M229.5,249.7 229.8,219.8 230.0,198.7 230.3,185.6 230.4,182.2 230.6,180.9 230.7,181.9 230.9,184.9 231.2,197.9 231.4,219.7 231.6,248.5 M233.1,249.1 233.5,206.6 233.7,195.8 233.8,193.4 233.9,192.3 234.1,193.4 234.2,195.9 234.4,206.9 234.8,249.4 M236.1,250.6 236.4,214.7 236.6,205.2 236.8,202.2 237.0,205.4 237.2,215.3 237.5,250.4 M238.8,248.9 239.0,220.3 239.2,213.0 239.3,210.8 239.4,213.3 239.6,221.0 239.8,248.4 M241.1,249.4 241.3,225.6 241.4,220.4 241.5,218.4 241.6,220.8 241.7,226.4 241.9,248.7 M243.2,249.6 243.3,230.9 243.5,225.3 243.7,232.1 243.9,249.7 M245.1,248.0 245.2,235.1 245.3,231.6 245.5,237.0 245.6,249.3 M246.8,249.1 246.9,240.4 247.0,237.3 247.2,249.6 M248.4,249.0 248.5,242.5 248.7,248.4 M249.9,247.7 250.0,247.5 250.0,247.8"/>
<path stroke="#4DBEEE" stroke-width="0.6" d="M84.2,249.0 101.8,187.1 121.0,120.6 127.8,97.7 133.4,79.0 138.1,63.6 142.3,50.6 145.9,39.9 149.1,31.0 151.9,23.6 154.6,17.8 155.8,15.4 157.0,13.3 158.1,11.5 159.2,10.1 160.2,8.9 161.2,8.1 162.2,7.7 163.1,7.5 163.6,7.5 164.1,7.7 165.1,8.3 166.0,9.4 166.9,10.8 167.8,12.7 168.6,15.0 169.4,17.8 170.2,21.0 171.0,24.7 171.7,28.7 173.0,38.3 174.2,49.9 175.4,63.1 176.4,78.6 177.3,96.1 178.2,115.5 178.9,137.1 179.6,161.2 180.2,187.8 180.7,216.8 181.2,248.0 M184.5,249.2 185.0,214.4 185.6,183.8 186.3,157.1 187.0,134.4 187.8,115.8 188.7,102.0 189.1,97.2 189.6,93.7 190.0,91.6 190.3,91.1 190.5,91.0 190.7,91.2 190.9,91.7 191.3,93.7 191.7,97.0 192.1,101.7 192.9,114.7 193.5,132.3 194.1,154.8 194.6,181.5 195.1,213.5 195.5,249.5 M197.9,249.0 198.5,197.8 199.2,159.2 199.6,145.6 200.0,135.1 200.5,128.8 200.7,127.1 200.9,126.5 201.1,126.7 201.2,127.0 201.4,128.5 201.8,134.5 202.2,144.3 202.6,158.3 203.2,196.9 203.8,248.9 M205.7,248.1 206.2,205.6 206.6,175.2 207.2,156.1 207.5,151.3 207.6,150.1 207.7,149.8 207.9,150.2 208.0,151.5 208.3,156.6 208.8,175.7 209.2,206.4 209.6,249.9"/>
<path stroke="#4DBEEE" stroke-width="0.45" stroke-opacity="1" d="M211.3,249.8 211.6,215.0 212.0,188.2 212.4,172.4 212.6,168.4 212.7,167.4 212.8,167.1 213.0,168.5 213.2,172.9 213.5,188.8 213.9,214.1 214.1,248.9 M215.7,247.8 216.0,218.6 216.2,197.9 216.5,185.2 216.6,182.0 216.8,180.9 216.9,182.0 217.1,185.3 217.4,198.6 217.6,221.0 217.8,250.5 M219.3,250.3 219.7,207.1 219.9,196.1 220.0,193.5 220.1,192.3 220.2,193.2 220.3,195.6 220.6,206.4 220.9,248.1 M222.3,248.7 222.6,213.8 222.8,205.5 223.0,202.2 223.2,205.1 223.3,214.7 223.6,249.2 M224.9,250.1 225.2,220.8 225.3,213.3 225.5,210.8 225.6,213.1 225.8,220.5 226.0,250.5 M227.3,250.6 227.5,226.1 227.6,220.7 227.7,218.4 227.8,220.5 227.9,225.8 228.1,250.6 M229.4,247.9 229.5,231.4 229.7,225.3 229.9,231.5 230.0,248.6 M231.2,249.0 231.4,235.6 231.5,231.5 231.7,236.4 231.8,248.3 M233.0,247.7 233.1,239.7 233.2,237.2 233.4,248.7 M234.6,247.9 234.7,242.6 234.8,247.8 M236.1,247.9 236.1,247.4 236.2,248.1"/>
<path stroke="#A2142F" stroke-width="0.6" d="M71.1,249.0 77.8,224.5 85.5,196.7 94.3,166.0 103.4,134.1 111.3,106.9 117.9,84.8 123.4,66.7 128.0,52.1 131.7,41.1 135.0,31.7 137.9,24.2 140.6,18.1 141.9,15.6 143.1,13.4 144.2,11.6 145.3,10.1 146.4,9.0 147.4,8.2 148.4,7.7 149.3,7.5 149.8,7.6 150.3,7.7 151.3,8.3 152.2,9.4 153.1,10.8 154.0,12.7 154.8,15.1 155.6,17.8 156.4,21.1 157.2,24.7 157.9,28.8 159.2,38.4 160.4,49.9 161.6,63.2 162.6,78.7 163.5,96.2 164.4,115.6 165.1,137.4 165.8,161.5 166.4,188.2 166.9,217.3 167.4,248.6 M170.7,248.6 171.2,213.9 171.8,183.4 172.5,156.8 173.2,134.1 174.0,115.6 174.9,102.1 175.3,97.3 175.8,93.7 176.2,91.7 176.4,91.2 176.7,91.0 176.9,91.2 177.1,91.6 177.5,93.6 177.9,96.9 178.3,101.3 179.0,114.1 179.7,132.0 180.3,154.3 180.8,180.9 181.3,212.7 181.7,248.4 M184.1,247.9 184.7,197.1 185.4,158.8 185.8,144.7 186.2,134.9 186.7,128.7 186.9,127.0 187.0,126.6 187.1,126.5 187.4,127.1 187.6,128.6 188.0,134.7 188.4,144.7 188.8,157.9 189.4,196.2 189.9,247.7 M191.9,249.3 192.3,208.0 192.8,176.6 193.3,156.8 193.6,151.7 193.8,150.2 193.9,149.8 194.1,150.2 194.2,151.4 194.5,156.4 195.0,175.3 195.4,205.7 195.8,248.6"/>
<path stroke="#A2142F" stroke-width="0.45" stroke-opacity="1" d="M197.5,248.2 197.8,213.9 198.2,187.6 198.6,172.1 198.8,168.2 198.9,167.3 199.0,167.1 199.2,168.7 199.4,173.2 199.7,189.5 200.1,215.3 200.3,250.7 M201.9,249.1 202.1,219.5 202.4,198.4 202.7,185.4 202.8,182.1 203.0,180.9 203.1,181.9 203.3,185.0 203.5,198.1 203.8,220.1 204.0,249.1 M205.5,248.5 205.9,206.3 206.1,195.7 206.2,193.3 206.3,192.3 206.4,193.5 206.5,196.0 206.8,207.2 207.1,250.1 M208.5,250.0 208.8,214.4 209.0,205.8 209.2,202.2 209.3,202.9 209.3,204.9 209.5,212.8 209.8,247.9 M211.1,248.2 211.4,220.0 211.5,212.9 211.7,210.8 211.8,213.5 212.0,221.4 212.2,249.2 M213.5,248.7 213.7,225.3 213.8,220.3 213.9,218.4 214.0,221.0 214.1,226.7 214.3,249.4 M215.5,249.0 215.7,230.6 215.8,226.7 215.9,225.3 216.1,232.4 216.2,250.4 M217.4,250.0 217.6,236.1 217.7,231.5 217.8,235.9 218.0,250.0 M219.2,248.6 219.4,237.3 219.5,239.7 219.6,247.8 M220.8,248.6 220.9,242.5 221.0,248.9 M222.3,248.1 222.3,247.4 222.4,247.9"/>
<path stroke="#0072BD" stroke-width="0.6" d="M58.5,249.0 63.0,231.7 69.7,206.5 76.8,180.5 84.9,151.6 93.4,121.7 101.2,94.9 107.6,73.3 113.2,55.5 117.1,43.5 120.6,33.5 123.7,25.4 126.5,18.9 127.8,16.2 129.0,13.9 130.2,11.9 131.4,10.3 132.5,9.1 133.6,8.2 134.6,7.7 135.5,7.5 136.1,7.6 136.6,7.7 137.5,8.3 138.4,9.4 139.4,10.9 140.2,12.7 141.1,15.1 141.9,17.9 142.7,21.2 143.4,25.0 144.1,29.0 145.4,38.7 146.7,50.1 147.8,63.5 148.8,78.7 149.7,96.2 150.6,115.6 151.3,137.4 152.0,161.6 152.6,188.2 153.1,217.4 153.6,248.8 M156.9,248.3 157.4,213.7 158.0,183.2 158.7,156.6 159.4,134.0 160.2,115.5 161.1,102.1 161.5,97.3 162.0,93.7 162.4,91.7 162.6,91.1 162.9,91.0 163.1,91.2 163.3,91.6 163.7,93.7 164.1,96.9 164.5,101.6 165.2,114.7 165.9,132.2 166.5,154.7 167.0,181.3 167.5,213.3 167.9,249.2 M170.2,249.2 170.8,197.9 171.6,159.3 172.0,145.6 172.4,135.1 172.9,128.8 173.1,127.1 173.3,126.5 173.4,126.7 173.5,127.0 173.8,128.5 174.2,134.5 174.6,144.3 175.0,158.2 175.6,196.9 176.1,248.9 M178.1,248.1 178.5,205.6 179.0,175.1 179.6,156.1 179.8,151.3 180.0,150.1 180.1,149.8 180.3,150.2 180.4,151.5 180.7,156.7 181.2,175.8 181.6,206.5 182.0,250.1"/>
<path stroke="#0072BD" stroke-width="0.45" stroke-opacity="1" d="M183.7,249.5 184.0,214.8 184.4,188.1 184.8,172.4 185.0,168.3 185.1,167.4 185.2,167.1 185.4,168.6 185.6,172.9 185.9,189.0 186.2,214.3 186.5,249.3 M188.1,250.5 188.3,220.4 188.6,199.0 188.9,185.7 189.0,182.3 189.2,180.9 189.3,181.8 189.4,184.8 189.7,197.5 190.0,219.2 190.2,247.7 M191.7,249.8 192.1,206.9 192.3,196.0 192.4,193.5 192.5,192.3 192.6,193.3 192.7,195.7 192.9,206.6 193.3,248.6 M194.7,248.2 195.0,213.6 195.2,205.4 195.4,202.2 195.5,205.2 195.7,215.0 196.0,249.7 M197.3,249.5 197.6,220.6 197.7,213.2 197.9,210.8 198.0,213.2 198.1,220.7 198.4,247.8 M199.6,250.0 199.9,225.9 200.0,220.6 200.1,218.4 200.2,220.7 200.3,226.1 200.5,248.1 M201.7,250.2 201.9,231.1 202.1,225.3 202.3,231.8 202.4,249.2 M203.6,248.4 203.8,235.3 203.9,231.5 204.0,236.7 204.2,248.9 M205.3,249.5 205.4,240.6 205.6,237.3 205.8,249.2 M206.9,249.3 207.1,242.5 207.2,248.2 M208.5,247.8 208.5,247.5 208.5,247.7"/>
<path stroke="#D95319" stroke-width="0.6" d="M44.7,259.5 49.2,239.8 52.8,224.5 55.9,212.0 60.9,192.3 66.6,170.5 73.6,144.9 82.0,114.6 89.6,88.3 95.8,67.4 100.3,53.1 104.4,40.5 108.1,30.3 111.3,22.1 112.8,18.7 114.3,15.8 115.6,13.4 116.8,11.4 118.0,9.9 119.2,8.6 120.4,7.9 121.5,7.5 122.0,7.5 122.5,7.6 123.5,8.1 124.4,9.0 125.4,10.5 126.2,12.2 127.1,14.4 127.9,17.2 128.7,20.2 129.5,24.0 130.2,27.9 131.5,37.2 132.7,48.5 133.9,62.1 134.9,77.5 135.9,94.9 136.8,114.4 137.5,136.2 138.2,160.8 138.8,186.6 139.3,215.7 139.8,249.1 M143.1,248.1 143.6,213.9 144.2,183.1 144.9,156.8 145.6,134.1 146.4,115.6 147.3,101.8 147.7,97.1 148.2,93.6 148.6,91.6 148.9,91.1 149.1,91.0 149.3,91.2 149.5,91.7 149.9,93.8 150.3,97.1 150.7,101.6 151.4,114.7 152.1,132.2 152.7,154.7 153.2,181.4 153.7,213.5 154.1,249.5 M156.4,248.8 157.0,197.6 157.8,159.1 158.2,144.9 158.6,134.7 159.1,128.6 159.3,127.0 159.4,126.6 159.5,126.5 159.8,127.1 160.0,128.8 160.4,135.0 160.8,145.1 161.2,159.4 161.8,197.3 162.3,249.7 M164.3,249.8 164.7,208.3 165.2,176.8 165.7,156.9 166.0,151.7 166.2,150.2 166.3,149.8 166.4,150.1 166.6,151.3 166.9,156.3 167.4,175.1 167.8,205.4 168.2,248.3"/>
<path stroke="#D95319" stroke-width="0.45" stroke-opacity="1" d="M169.9,248.4 170.2,214.0 170.6,187.6 171.0,172.1 171.2,168.2 171.3,167.3 171.4,167.1 171.6,168.7 171.8,173.2 172.1,189.5 172.4,215.2 172.7,250.6 M174.3,249.1 174.5,219.5 174.8,198.5 175.1,185.4 175.2,182.1 175.4,180.9 175.5,181.9 175.6,185.0 175.9,198.1 176.2,220.2 176.4,249.2 M177.9,248.4 178.3,206.2 178.5,195.7 178.6,193.3 178.7,192.3 178.8,193.5 178.9,196.0 179.1,207.3 179.5,250.2 M180.9,249.7 181.2,214.3 181.4,205.7 181.5,202.2 181.6,202.9 181.7,204.9 181.9,214.2 182.2,248.1 M183.5,247.9 183.8,219.8 183.9,212.8 184.1,210.8 184.2,213.6 184.3,221.5 184.6,249.5 M185.8,248.4 186.1,225.2 186.2,220.2 186.3,218.4 186.4,221.1 186.5,226.9 186.7,249.8 M187.9,248.6 188.1,231.7 188.3,225.3 188.4,231.2 188.6,247.9 M189.8,249.6 189.9,235.9 190.1,231.5 190.2,236.1 190.3,247.7 M191.5,248.2 191.6,240.0 191.7,237.2 191.8,239.9 191.9,248.1 M193.1,248.3 193.3,242.5 193.4,249.2 M194.7,248.0 194.7,247.4 194.7,248.0"/>
<path stroke="#EDB120" stroke-width="0.6" d="M30.9,268.2 39.0,239.8 44.7,212.0 49.2,192.3 52.8,177.0 58.5,154.0 64.9,129.7 69.7,111.9 74.7,93.9 80.4,74.0 85.5,57.1 89.6,44.3 93.4,33.2 95.1,28.7 97.0,23.8 98.4,20.5 100.0,17.0 101.5,14.1 102.9,11.8 104.2,10.0 105.4,8.7 106.6,7.9 107.6,7.5 108.1,7.5 108.7,7.6 109.7,8.0 110.6,8.9 111.5,10.2 112.3,11.8 113.2,13.9 114.1,16.9 114.9,19.9 115.7,24.0 116.4,27.9 117.7,37.2 119.0,48.5 120.1,62.1 121.2,78.4 122.2,95.9 123.1,116.9 123.9,139.2 124.5,162.6 125.1,191.0 125.6,221.2 126.1,252.5 M129.3,251.0 129.8,216.0 130.4,186.3 131.0,158.7 131.8,134.7 132.6,116.3 133.5,102.2 134.0,97.2 134.4,93.7 134.8,91.7 135.1,91.2 135.3,91.0 135.5,91.1 135.7,91.6 136.2,93.8 136.6,97.2 136.9,102.0 137.7,114.8 138.4,133.4 138.9,155.6 139.5,182.8 139.9,215.9 140.3,252.2 M142.6,251.5 143.2,198.3 144.0,159.8 144.4,145.8 144.8,135.1 145.3,128.8 145.5,127.1 145.7,126.5 145.8,126.7 145.9,127.0 146.2,128.5 146.6,134.5 147.0,144.4 147.4,158.4 148.0,197.2 148.5,249.5 M150.5,249.7 150.9,208.2 151.4,176.7 151.9,156.8 152.2,151.7 152.4,150.2 152.5,149.8 152.6,150.2 152.8,151.4 153.1,156.4 153.6,175.2 154.0,205.6 154.4,248.7"/>
<path stroke="#EDB120" stroke-width="0.45" stroke-opacity="1" d="M156.1,247.9 156.4,213.7 156.8,188.6 157.1,172.6 157.3,168.4 157.5,167.1 157.7,168.5 157.9,172.7 158.3,188.5 158.6,213.6 158.9,248.2 M160.5,248.3 160.7,219.0 161.0,198.1 161.3,185.3 161.4,182.1 161.6,180.9 161.7,182.0 161.8,185.2 162.1,198.5 162.4,220.8 162.6,250.1 M164.0,250.5 164.4,207.1 164.7,196.1 164.8,193.5 164.9,192.4 165.0,193.2 165.1,195.6 165.3,206.4 165.7,248.1 M167.1,248.6 167.4,213.8 167.6,205.5 167.7,202.2 167.9,205.2 168.1,214.8 168.4,249.4 M169.7,249.8 170.0,220.7 170.1,213.2 170.2,210.8 170.4,213.2 170.5,220.6 170.8,250.8 M172.0,250.1 172.2,225.9 172.3,220.6 172.5,218.4 172.6,220.6 172.7,226.1 172.9,248.0 M174.1,250.2 174.3,231.1 174.5,225.3 174.6,231.8 174.8,249.2 M176.0,248.4 176.1,235.3 176.3,231.5 176.4,236.7 176.5,248.9 M177.7,249.4 177.8,240.6 177.9,237.3 178.1,249.3 M179.3,249.2 179.5,242.5 179.6,248.2 M180.9,247.8 180.9,247.5 180.9,247.8"/>
<path stroke="#7E2F8E" stroke-width="0.6" d="M30.9,239.8 39.0,192.3 44.7,164.5 49.2,144.9 52.8,129.7 58.5,106.9 64.9,83.2 69.7,66.1 74.7,49.4 78.7,37.0 80.4,32.0 82.8,25.7 84.2,22.1 86.2,17.7 88.0,14.1 89.6,11.4 90.6,10.0 92.1,8.5 92.5,8.2 93.4,7.7 93.8,7.6 94.7,7.5 95.5,7.7 95.8,7.9 96.6,8.5 97.3,9.4 98.4,11.1 99.0,12.6 100.0,15.3 100.9,18.7 101.5,21.2 102.3,25.5 102.9,28.8 104.2,38.2 105.4,49.7 106.6,63.6 107.6,80.2 108.5,95.9 109.3,114.4 110.0,136.2 110.8,162.6 111.3,186.6 111.8,215.7 112.3,252.5 M115.6,251.0 116.1,211.8 116.7,183.1 117.4,156.4 118.1,133.0 119.0,114.0 119.8,101.5 120.3,96.7 120.7,93.4 121.1,91.5 121.4,91.1 121.6,91.0 121.8,91.2 122.0,91.8 122.4,93.8 122.8,97.2 123.2,102.0 123.9,115.8 124.6,133.4 125.2,157.6 125.7,185.4 126.2,215.9 126.6,257.0 M128.8,255.7 129.4,203.3 129.7,181.1 130.2,161.2 130.6,146.8 131.0,135.4 131.5,128.8 131.7,127.3 131.8,126.8 131.9,126.5 132.1,126.6 132.2,127.1 132.4,128.3 132.8,134.2 133.2,144.4 133.6,159.6 134.3,201.0 134.8,252.6 M136.7,252.3 137.1,210.7 137.6,178.3 137.9,165.7 138.1,157.1 138.4,151.9 138.5,150.5 138.7,149.8 138.9,150.4 139.0,151.7 139.3,156.6 139.8,176.5 140.3,209.6 140.6,253.3"/>
<path stroke="#7E2F8E" stroke-width="0.45" stroke-opacity="1" d="M142.3,247.9 142.6,214.1 143.0,187.5 143.4,171.7 143.6,168.4 143.7,167.3 143.8,167.1 144.0,168.8 144.1,172.5 144.5,188.7 144.8,213.3 145.1,247.7 M146.7,248.7 146.9,219.2 147.2,198.2 147.5,185.3 147.6,182.1 147.8,180.9 147.9,182.0 148.0,185.2 148.3,198.4 148.6,220.7 148.8,250.0 M150.2,250.5 150.6,207.1 150.9,196.1 151.0,193.5 151.1,192.4 151.2,193.3 151.3,195.6 151.5,206.5 151.9,248.3 M153.3,248.3 153.6,213.6 153.8,205.4 153.9,202.2 154.1,205.2 154.3,215.0 154.6,249.8 M155.9,249.3 156.2,220.4 156.3,213.1 156.4,210.8 156.6,213.3 156.7,220.9 157.0,248.2 M158.2,249.5 158.4,225.6 158.5,220.5 158.7,218.4 158.8,220.8 158.9,226.4 159.1,248.7 M160.3,249.5 160.5,230.8 160.6,226.8 160.7,225.3 160.8,232.2 161.0,250.0 M162.2,247.7 162.3,235.0 162.5,231.6 162.6,237.2 162.7,249.7 M163.9,248.7 164.1,237.3 164.2,239.7 164.3,247.7 M165.5,248.6 165.7,242.5 165.8,248.9 M167.0,248.1 167.1,247.4 167.1,247.9"/>
<path stroke="#77AC30" stroke-width="0.6" d="M30.9,192.3 39.0,144.9 44.7,117.3 49.2,98.0 52.8,83.2 55.9,71.3 58.5,61.4 63.0,45.9 66.6,34.4 69.7,25.7 72.4,19.0 73.6,16.4 74.7,14.1 75.8,12.2 76.8,10.7 77.8,9.5 78.7,8.5 79.6,7.9 80.4,7.6 81.3,7.5 82.0,7.7 82.8,8.2 83.5,8.9 84.2,9.9 84.9,11.1 85.5,12.6 86.2,14.4 87.4,18.7 88.0,21.2 89.1,27.1 90.1,34.2 90.6,38.2 91.6,47.2 92.5,57.7 93.4,69.9 94.3,83.9 95.1,100.3 95.8,119.5 96.6,142.3 97.7,186.6 98.4,226.9 98.7,252.5 M101.8,263.3 102.3,220.4 102.9,189.6 103.4,166.1 104.2,140.0 104.9,121.3 105.4,111.9 105.9,104.5 106.3,98.9 106.8,94.8 107.2,92.3 107.4,91.5 107.6,91.1 107.9,91.0 108.1,91.2 108.5,92.6 108.9,95.4 109.3,99.4 110.0,111.8 110.8,130.6 111.5,157.6 112.0,185.4 112.5,223.1 112.8,257.0 M115.0,264.5 115.6,208.5 116.3,167.2 116.7,151.1 117.2,136.7 117.6,130.2 117.9,127.7 118.1,126.6 118.2,126.6 118.4,126.8 118.6,128.3 119.0,133.1 119.5,144.4 119.8,157.1 120.5,196.6 121.0,252.6 M122.9,259.1 123.3,214.9 123.8,180.8 124.3,158.3 124.6,152.5 124.8,150.5 124.9,149.8 125.1,150.4 125.3,152.3 125.6,157.8 126.1,178.8 126.5,209.6 126.9,259.5"/>
<path stroke="#77AC30" stroke-width="0.45" stroke-opacity="1" d="M128.5,253.3 128.8,217.6 129.2,189.6 129.5,173.7 129.7,168.9 130.0,167.1 130.1,167.6 130.2,168.3 130.4,172.5 130.8,190.8 131.1,218.4 131.4,252.4 M132.9,248.2 133.1,219.1 133.4,196.2 133.7,184.1 133.8,181.8 133.9,181.2 134.0,180.9 134.0,180.9 134.2,183.0 134.3,186.1 134.6,200.1 134.8,224.9 135.1,255.6 M136.5,251.8 136.8,208.0 137.0,197.4 137.3,192.4 137.4,193.4 137.5,195.7 137.8,207.7 138.1,249.8 M139.5,254.4 139.8,218.0 139.9,207.4 140.1,202.2 140.3,203.2 140.3,205.4 140.5,214.2 140.8,252.0 M142.1,250.0 142.4,220.6 142.5,214.3 142.6,210.8 142.7,211.1 142.8,212.7 142.9,219.9 143.2,247.9 M144.4,252.2 144.6,228.4 144.7,221.4 144.8,218.5 145.0,220.0 145.1,224.8 145.3,248.2 M146.5,249.8 146.7,230.9 146.9,225.3 147.0,232.1 147.2,249.7 M148.4,247.8 148.5,235.0 148.7,231.6 148.8,237.1 148.9,249.6 M150.1,248.7 150.3,237.3 150.4,239.7 150.5,247.7 M151.7,248.5 151.9,242.5 152.0,249.0 M153.2,248.0 153.3,247.4 153.3,248.0"/>
<path stroke="#4DBEEE" stroke-width="0.6" d="M30.9,144.9 39.0,98.0 44.7,71.3 49.2,53.1 52.8,39.8 55.9,29.7 58.5,22.1 60.9,16.4 63.0,12.2 64.9,9.5 66.6,7.9 68.2,7.5 69.7,8.2 71.1,9.9 72.4,12.6 73.6,16.4 74.7,21.2 75.8,27.1 76.8,34.2 77.8,42.6 78.7,52.3 79.6,63.6 80.4,76.6 81.3,91.8 82.0,109.5 82.8,130.4 83.5,155.5 84.2,186.6 85.5,268.2 M88.0,268.2 88.5,239.8 89.1,203.9 89.6,177.1 90.1,156.4 90.6,140.0 91.6,116.3 92.1,107.9 92.5,101.5 93.0,96.7 93.4,93.4 93.8,91.5 94.3,91.0 94.7,91.8 95.1,93.8 95.5,97.2 95.8,102.0 96.6,115.8 97.3,136.4 98.0,166.0 98.4,185.4 98.7,209.1 99.4,268.2 M101.2,268.2 102.1,198.3 102.6,167.2 102.9,155.9 103.4,139.6 103.9,130.2 104.2,127.7 104.4,126.6 104.7,126.8 104.9,128.3 105.4,135.4 105.9,148.2 106.1,157.1 106.8,196.6 107.2,238.9 107.4,268.2 M109.1,268.2 109.7,206.6 110.0,180.8 110.6,158.3 110.8,154.1 111.0,151.3 111.1,150.0 111.3,149.9 111.5,151.2 111.8,157.8 112.3,178.8 112.8,217.7 113.2,259.5"/>
<path stroke="#4DBEEE" stroke-width="0.45" stroke-opacity="1" d="M114.7,264.9 115.0,225.2 115.3,199.1 115.7,176.1 115.9,171.7 116.1,167.3 116.3,167.2 116.4,168.3 116.6,170.8 117.0,186.7 117.4,218.4 117.6,252.4 M119.1,257.6 119.6,203.9 119.9,185.8 120.0,182.8 120.1,181.2 120.3,180.9 120.5,184.4 120.6,188.1 120.8,200.1 121.1,231.5 121.4,265.4 M122.7,251.8 123.1,208.0 123.3,197.4 123.4,194.4 123.5,192.7 123.6,192.4 123.8,195.7 123.9,199.4 124.0,211.3 124.4,257.7 M125.6,262.0 126.0,218.0 126.2,207.4 126.3,202.6 126.4,202.2 126.5,203.2 126.6,205.4 126.7,214.2 127.1,252.0 M128.3,256.3 128.5,226.8 128.7,216.1 128.8,211.2 128.9,210.8 129.0,211.7 129.1,217.6 129.4,247.9 M130.6,252.2 130.8,228.4 131.0,220.6 131.1,218.4 131.2,221.5 131.4,230.2 131.6,255.3 M132.7,249.4 132.9,230.7 133.1,225.3 133.3,231.9 133.4,251.8 M134.6,247.8 134.7,237.0 134.9,231.5 135.1,238.1 135.2,249.7 M136.3,253.6 136.5,237.7 136.6,237.3 136.6,238.1 136.7,240.3 136.8,248.8 M137.9,248.1 138.1,242.5 138.2,249.1 M139.5,248.0 139.5,247.4 139.5,248.3"/>
<path stroke="#A2142F" stroke-width="0.6" d="M30.9,98.0 39.0,53.1 44.7,29.7 49.2,16.4 52.8,9.5 55.9,7.5 58.5,9.9 60.9,16.4 63.0,27.1 64.9,42.6 66.6,63.6 68.2,91.8 69.7,130.4 71.1,186.6 72.4,268.2 M74.7,268.2 75.8,203.9 76.8,156.4 77.8,126.8 78.7,107.9 79.6,96.7 80.4,91.5 81.3,91.8 82.0,97.2 82.8,108.1 83.5,125.2 84.2,149.9 84.9,185.4 85.5,238.9 86.2,268.2 M87.4,268.2 88.0,247.5 88.5,198.3 89.1,167.2 89.6,146.8 90.1,134.2 90.6,127.7 91.1,126.8 91.6,131.2 92.1,141.0 92.5,157.1 93.0,180.9 93.4,215.6 93.8,268.2 M95.5,268.2 95.8,224.2 96.2,192.4 96.6,171.5 97.0,158.3 97.3,151.3 97.7,149.9 98.0,153.8 98.4,163.2 98.7,178.8 99.0,202.2 99.7,268.2"/>
<path stroke="#A2142F" stroke-width="0.45" stroke-opacity="1" d="M100.9,268.2 101.5,210.8 101.8,189.6 102.1,176.1 102.3,168.9 102.6,167.2 102.9,170.8 103.1,179.9 103.4,195.3 103.7,218.4 103.9,252.4 M105.4,257.6 105.9,203.9 106.1,190.2 106.3,182.8 106.6,180.9 106.8,184.4 107.0,193.3 107.2,208.6 107.6,265.4 M108.9,268.2 109.3,215.7 109.5,201.9 109.7,194.4 109.9,192.4 110.0,195.7 110.2,204.6 110.4,219.7 110.8,268.2 M111.8,268.2 112.3,211.9 112.5,204.3 112.7,202.2 112.8,205.4 113.0,214.2 113.3,252.0 M114.6,256.3 114.9,220.6 115.0,213.0 115.2,210.8 115.3,214.0 115.4,222.7 115.7,260.3 M116.8,264.2 117.1,228.4 117.2,220.6 117.4,218.4 117.5,221.5 117.6,230.2 117.9,267.8 M119.0,249.4 119.1,235.3 119.2,227.5 119.3,225.3 119.5,228.4 119.6,237.0 119.7,251.8 M120.8,255.7 120.9,241.7 121.0,233.8 121.1,231.5 121.2,234.6 121.4,243.1 121.5,258.0 M122.5,261.5 122.7,239.6 122.8,237.3 122.9,240.3 123.0,248.8 M124.1,252.8 124.3,242.5 124.5,254.0 M125.6,249.8 125.7,247.4 125.8,250.4"/>
</g>
<g font-family="Liberation Sans, sans-serif" font-size="7" fill="#262626"><text x="32" y="10" text-anchor="end">0</text><text x="32" y="89" text-anchor="end">-5</text><text x="32" y="168" text-anchor="end">-10</text><text x="32" y="247" text-anchor="end">-15</text><text x="59.69" y="255.9" text-anchor="middle">10<tspan font-size="5.4" dy="-3.4">-6</tspan></text><text x="105.58" y="255.9" text-anchor="middle">10<tspan font-size="5.4" dy="-3.4">-5</tspan></text><text x="151.46" y="255.9" text-anchor="middle">10<tspan font-size="5.4" dy="-3.4">-4</tspan></text><text x="197.35" y="255.9" text-anchor="middle">10<tspan font-size="5.4" dy="-3.4">-3</tspan></text><text x="243.23" y="255.9" text-anchor="middle">10<tspan font-size="5.4" dy="-3.4">-2</tspan></text><text x="289.12" y="255.9" text-anchor="middle">10<tspan font-size="5.4" dy="-3.4">-1</tspan></text><text x="335" y="255.9" text-anchor="middle">10<tspan font-size="5.4" dy="-3.4">0</tspan></text><text x="185.8" y="265.7" text-anchor="middle" font-size="7.5">Freq (Hz)</text><text transform="translate(18.0,125.4) rotate(-90)" text-anchor="middle" font-size="7.8">Att (dB)</text></g>
<g stroke="#bcbcbc" stroke-width="0.55" stroke-dasharray="1.3 0.9"><line x1="411.5" y1="234.52" x2="724.5" y2="234.52"/><line x1="411.5" y1="228.69" x2="724.5" y2="228.69"/><line x1="411.5" y1="224.55" x2="724.5" y2="224.55"/><line x1="411.5" y1="221.33" x2="724.5" y2="221.33"/><line x1="411.5" y1="218.71" x2="724.5" y2="218.71"/><line x1="411.5" y1="216.49" x2="724.5" y2="216.49"/><line x1="411.5" y1="214.57" x2="724.5" y2="214.57"/><line x1="411.5" y1="212.87" x2="724.5" y2="212.87"/><line x1="411.5" y1="201.38" x2="724.5" y2="201.38"/><line x1="411.5" y1="195.54" x2="724.5" y2="195.54"/><line x1="411.5" y1="191.4" x2="724.5" y2="191.4"/><line x1="411.5" y1="188.19" x2="724.5" y2="188.19"/><line x1="411.5" y1="185.57" x2="724.5" y2="185.57"/><line x1="411.5" y1="183.35" x2="724.5" y2="183.35"/><line x1="411.5" y1="181.43" x2="724.5" y2="181.43"/><line x1="411.5" y1="179.73" x2="724.5" y2="179.73"/><line x1="411.5" y1="168.24" x2="724.5" y2="168.24"/><line x1="411.5" y1="162.4" x2="724.5" y2="162.4"/><line x1="411.5" y1="158.26" x2="724.5" y2="158.26"/><line x1="411.5" y1="155.05" x2="724.5" y2="155.05"/><line x1="411.5" y1="152.42" x2="724.5" y2="152.42"/><line x1="411.5" y1="150.21" x2="724.5" y2="150.21"/><line x1="411.5" y1="148.28" x2="724.5" y2="148.28"/><line x1="411.5" y1="146.59" x2="724.5" y2="146.59"/><line x1="411.5" y1="135.09" x2="724.5" y2="135.09"/><line x1="411.5" y1="129.26" x2="724.5" y2="129.26"/><line x1="411.5" y1="125.12" x2="724.5" y2="125.12"/><line x1="411.5" y1="121.91" x2="724.5" y2="121.91"/><line x1="411.5" y1="119.28" x2="724.5" y2="119.28"/><line x1="411.5" y1="117.06" x2="724.5" y2="117.06"/><line x1="411.5" y1="115.14" x2="724.5" y2="115.14"/><line x1="411.5" y1="113.45" x2="724.5" y2="113.45"/><line x1="411.5" y1="101.95" x2="724.5" y2="101.95"/><line x1="411.5" y1="96.12" x2="724.5" y2="96.12"/><line x1="411.5" y1="91.97" x2="724.5" y2="91.97"/><line x1="411.5" y1="88.76" x2="724.5" y2="88.76"/><line x1="411.5" y1="86.14" x2="724.5" y2="86.14"/><line x1="411.5" y1="83.92" x2="724.5" y2="83.92"/><line x1="411.5" y1="82" x2="724.5" y2="82"/><line x1="411.5" y1="80.3" x2="724.5" y2="80.3"/><line x1="411.5" y1="68.81" x2="724.5" y2="68.81"/><line x1="411.5" y1="62.97" x2="724.5" y2="62.97"/><line x1="411.5" y1="58.83" x2="724.5" y2="58.83"/><line x1="411.5" y1="55.62" x2="724.5" y2="55.62"/><line x1="411.5" y1="53" x2="724.5" y2="53"/><line x1="411.5" y1="50.78" x2="724.5" y2="50.78"/><line x1="411.5" y1="48.85" x2="724.5" y2="48.85"/><line x1="411.5" y1="47.16" x2="724.5" y2="47.16"/><line x1="411.5" y1="35.67" x2="724.5" y2="35.67"/><line x1="411.5" y1="29.83" x2="724.5" y2="29.83"/><line x1="411.5" y1="25.69" x2="724.5" y2="25.69"/><line x1="411.5" y1="22.48" x2="724.5" y2="22.48"/><line x1="411.5" y1="19.85" x2="724.5" y2="19.85"/><line x1="411.5" y1="17.63" x2="724.5" y2="17.63"/><line x1="411.5" y1="15.71" x2="724.5" y2="15.71"/><line x1="411.5" y1="14.02" x2="724.5" y2="14.02"/></g>
<g stroke="#9a9a9a" stroke-width="1"><line x1="411.5" y1="211.36" x2="724.5" y2="211.36"/><line x1="411.5" y1="178.21" x2="724.5" y2="178.21"/><line x1="411.5" y1="145.07" x2="724.5" y2="145.07"/><line x1="411.5" y1="111.93" x2="724.5" y2="111.93"/><line x1="411.5" y1="78.79" x2="724.5" y2="78.79"/><line x1="411.5" y1="45.64" x2="724.5" y2="45.64"/><line x1="446.28" y1="12.5" x2="446.28" y2="244.5"/><line x1="481.06" y1="12.5" x2="481.06" y2="244.5"/><line x1="515.83" y1="12.5" x2="515.83" y2="244.5"/><line x1="550.61" y1="12.5" x2="550.61" y2="244.5"/><line x1="585.39" y1="12.5" x2="585.39" y2="244.5"/><line x1="620.17" y1="12.5" x2="620.17" y2="244.5"/><line x1="654.94" y1="12.5" x2="654.94" y2="244.5"/><line x1="689.72" y1="12.5" x2="689.72" y2="244.5"/></g>
<g clip-path="url(#cr)" stroke-width="0.8" stroke-opacity="0.42"><line x1="411.5" y1="47.6" x2="707.11" y2="214.2" stroke="#009E73"/><line x1="411.5" y1="30.7" x2="707.11" y2="198.0" stroke="#E69F00"/><line x1="411.5" y1="36.2" x2="707.11" y2="204.4" stroke="#0072B2"/></g>
<g font-family="Liberation Serif, serif" font-size="7.3" fill="#000"><rect x="651.5" y="15.6" width="69" height="44" fill="#fff"/><text x="690.4" y="22.4" text-anchor="end" stroke="#000" stroke-width="0.12">Fl</text><text x="690.4" y="29.7" text-anchor="end" stroke="#000" stroke-width="0.12">fitted Fl</text><text x="690.4" y="37" text-anchor="end" stroke="#000" stroke-width="0.12">Fh</text><text x="690.4" y="44.3" text-anchor="end" stroke="#000" stroke-width="0.12">fitted Fh</text><text x="690.4" y="51.6" text-anchor="end" stroke="#000" stroke-width="0.12">BW</text><text x="690.4" y="59" text-anchor="end" stroke="#000" stroke-width="0.12">fitted BW</text><rect x="703.2" y="17.7" width="3.6" height="3.6" fill="#9400D3"/><line x1="694.8" y1="26.8" x2="716" y2="26.8" stroke="#009E73" stroke-opacity="0.3" stroke-width="0.9"/><rect x="703.2" y="32.300000000000004" width="3.6" height="3.6" fill="none" stroke="#56B4E9" stroke-opacity="0.45" stroke-width="0.6"/><line x1="694.8" y1="41.4" x2="716" y2="41.4" stroke="#E69F00" stroke-opacity="0.4" stroke-width="0.9"/><circle cx="705" cy="48.7" r="1.8" fill="none" stroke="#F0E442" stroke-opacity="0.5" stroke-width="0.6"/><line x1="694.8" y1="56.1" x2="716" y2="56.1" stroke="#0072B2" stroke-opacity="0.3" stroke-width="0.9"/></g>
<g stroke="#1a1a1a" stroke-width="0.7"><rect x="411.5" y="12.5" width="313.0" height="232.0" fill="none" stroke="#1a1a1a" stroke-width="1"/><line x1="411.5" y1="244.5" x2="411.5" y2="241.5"/><line x1="411.5" y1="12.5" x2="411.5" y2="15.5"/><line x1="418.46" y1="244.5" x2="418.46" y2="242.9"/><line x1="418.46" y1="12.5" x2="418.46" y2="14.1"/><line x1="425.41" y1="244.5" x2="425.41" y2="242.9"/><line x1="425.41" y1="12.5" x2="425.41" y2="14.1"/><line x1="432.37" y1="244.5" x2="432.37" y2="242.9"/><line x1="432.37" y1="12.5" x2="432.37" y2="14.1"/><line x1="439.32" y1="244.5" x2="439.32" y2="242.9"/><line x1="439.32" y1="12.5" x2="439.32" y2="14.1"/><line x1="446.28" y1="244.5" x2="446.28" y2="241.5"/><line x1="446.28" y1="12.5" x2="446.28" y2="15.5"/><line x1="453.23" y1="244.5" x2="453.23" y2="242.9"/><line x1="453.23" y1="12.5" x2="453.23" y2="14.1"/><line x1="460.19" y1="244.5" x2="460.19" y2="242.9"/><line x1="460.19" y1="12.5" x2="460.19" y2="14.1"/><line x1="467.14" y1="244.5" x2="467.14" y2="242.9"/><line x1="467.14" y1="12.5" x2="467.14" y2="14.1"/><line x1="474.1" y1="244.5" x2="474.1" y2="242.9"/><line x1="474.1" y1="12.5" x2="474.1" y2="14.1"/><line x1="481.06" y1="244.5" x2="481.06" y2="241.5"/><line x1="481.06" y1="12.5" x2="481.06" y2="15.5"/><line x1="488.01" y1="244.5" x2="488.01" y2="242.9"/><line x1="488.01" y1="12.5" x2="488.01" y2="14.1"/><line x1="494.97" y1="244.5" x2="494.97" y2="242.9"/><line x1="494.97" y1="12.5" x2="494.97" y2="14.1"/><line x1="501.92" y1="244.5" x2="501.92" y2="242.9"/><line x1="501.92" y1="12.5" x2="501.92" y2="14.1"/><line x1="508.88" y1="244.5" x2="508.88" y2="242.9"/><line x1="508.88" y1="12.5" x2="508.88" y2="14.1"/><line x1="515.83" y1="244.5" x2="515.83" y2="241.5"/><line x1="515.83" y1="12.5" x2="515.83" y2="15.5"/><line x1="522.79" y1="244.5" x2="522.79" y2="242.9"/><line x1="522.79" y1="12.5" x2="522.79" y2="14.1"/><line x1="529.74" y1="244.5" x2="529.74" y2="242.9"/><line x1="529.74" y1="12.5" x2="529.74" y2="14.1"/><line x1="536.7" y1="244.5" x2="536.7" y2="242.9"/><line x1="536.7" y1="12.5" x2="536.7" y2="14.1"/><line x1="543.66" y1="244.5" x2="543.66" y2="242.9"/><line x1="543.66" y1="12.5" x2="543.66" y2="14.1"/><line x1="550.61" y1="244.5" x2="550.61" y2="241.5"/><line x1="550.61" y1="12.5" x2="550.61" y2="15.5"/><line x1="557.57" y1="244.5" x2="557.57" y2="242.9"/><line x1="557.57" y1="12.5" x2="557.57" y2="14.1"/><line x1="564.52" y1="244.5" x2="564.52" y2="242.9"/><line x1="564.52" y1="12.5" x2="564.52" y2="14.1"/><line x1="571.48" y1="244.5" x2="571.48" y2="242.9"/><line x1="571.48" y1="12.5" x2="571.48" y2="14.1"/><line x1="578.43" y1="244.5" x2="578.43" y2="242.9"/><line x1="578.43" y1="12.5" x2="578.43" y2="14.1"/><line x1="585.39" y1="244.5" x2="585.39" y2="241.5"/><line x1="585.39" y1="12.5" x2="585.39" y2="15.5"/><line x1="592.34" y1="244.5" x2="592.34" y2="242.9"/><line x1="592.34" y1="12.5" x2="592.34" y2="14.1"/><line x1="599.3" y1="244.5" x2="599.3" y2="242.9"/><line x1="599.3" y1="12.5" x2="599.3" y2="14.1"/><line x1="606.26" y1="244.5" x2="606.26" y2="242.9"/><line x1="606.26" y1="12.5" x2="606.26" y2="14.1"/><line x1="613.21" y1="244.5" x2="613.21" y2="242.9"/><line x1="613.21" y1="12.5" x2="613.21" y2="14.1"/><line x1="620.17" y1="244.5" x2="620.17" y2="241.5"/><line x1="620.17" y1="12.5" x2="620.17" y2="15.5"/><line x1="627.12" y1="244.5" x2="627.12" y2="242.9"/><line x1="627.12" y1="12.5" x2="627.12" y2="14.1"/><line x1="634.08" y1="244.5" x2="634.08" y2="242.9"/><line x1="634.08" y1="12.5" x2="634.08" y2="14.1"/><line x1="641.03" y1="244.5" x2="641.03" y2="242.9"/><line x1="641.03" y1="12.5" x2="641.03" y2="14.1"/><line x1="647.99" y1="244.5" x2="647.99" y2="242.9"/><line x1="647.99" y1="12.5" x2="647.99" y2="14.1"/><line x1="654.94" y1="244.5" x2="654.94" y2="241.5"/><line x1="654.94" y1="12.5" x2="654.94" y2="15.5"/><line x1="661.9" y1="244.5" x2="661.9" y2="242.9"/><line x1="661.9" y1="12.5" x2="661.9" y2="14.1"/><line x1="668.86" y1="244.5" x2="668.86" y2="242.9"/><line x1="668.86" y1="12.5" x2="668.86" y2="14.1"/><line x1="675.81" y1="244.5" x2="675.81" y2="242.9"/><line x1="675.81" y1="12.5" x2="675.81" y2="14.1"/><line x1="682.77" y1="244.5" x2="682.77" y2="242.9"/><line x1="682.77" y1="12.5" x2="682.77" y2="14.1"/><line x1="689.72" y1="244.5" x2="689.72" y2="241.5"/><line x1="689.72" y1="12.5" x2="689.72" y2="15.5"/><line x1="696.68" y1="244.5" x2="696.68" y2="242.9"/><line x1="696.68" y1="12.5" x2="696.68" y2="14.1"/><line x1="703.63" y1="244.5" x2="703.63" y2="242.9"/><line x1="703.63" y1="12.5" x2="703.63" y2="14.1"/><line x1="710.59" y1="244.5" x2="710.59" y2="242.9"/><line x1="710.59" y1="12.5" x2="710.59" y2="14.1"/><line x1="717.54" y1="244.5" x2="717.54" y2="242.9"/><line x1="717.54" y1="12.5" x2="717.54" y2="14.1"/><line x1="724.5" y1="244.5" x2="724.5" y2="241.5"/><line x1="724.5" y1="12.5" x2="724.5" y2="15.5"/><line x1="411.5" y1="244.5" x2="414.5" y2="244.5"/><line x1="724.5" y1="244.5" x2="721.5" y2="244.5"/><line x1="411.5" y1="234.52" x2="413.1" y2="234.52"/><line x1="724.5" y1="234.52" x2="722.9" y2="234.52"/><line x1="411.5" y1="228.69" x2="413.1" y2="228.69"/><line x1="724.5" y1="228.69" x2="722.9" y2="228.69"/><line x1="411.5" y1="224.55" x2="413.1" y2="224.55"/><line x1="724.5" y1="224.55" x2="722.9" y2="224.55"/><line x1="411.5" y1="221.33" x2="413.1" y2="221.33"/><line x1="724.5" y1="221.33" x2="722.9" y2="221.33"/><line x1="411.5" y1="218.71" x2="413.1" y2="218.71"/><line x1="724.5" y1="218.71" x2="722.9" y2="218.71"/><line x1="411.5" y1="216.49" x2="413.1" y2="216.49"/><line x1="724.5" y1="216.49" x2="722.9" y2="216.49"/><line x1="411.5" y1="214.57" x2="413.1" y2="214.57"/><line x1="724.5" y1="214.57" x2="722.9" y2="214.57"/><line x1="411.5" y1="212.87" x2="413.1" y2="212.87"/><line x1="724.5" y1="212.87" x2="722.9" y2="212.87"/><line x1="411.5" y1="211.36" x2="414.5" y2="211.36"/><line x1="724.5" y1="211.36" x2="721.5" y2="211.36"/><line x1="411.5" y1="201.38" x2="413.1" y2="201.38"/><line x1="724.5" y1="201.38" x2="722.9" y2="201.38"/><line x1="411.5" y1="195.54" x2="413.1" y2="195.54"/><line x1="724.5" y1="195.54" x2="722.9" y2="195.54"/><line x1="411.5" y1="191.4" x2="413.1" y2="191.4"/><line x1="724.5" y1="191.4" x2="722.9" y2="191.4"/><line x1="411.5" y1="188.19" x2="413.1" y2="188.19"/><line x1="724.5" y1="188.19" x2="722.9" y2="188.19"/><line x1="411.5" y1="185.57" x2="413.1" y2="185.57"/><line x1="724.5" y1="185.57" x2="722.9" y2="185.57"/><line x1="411.5" y1="183.35" x2="413.1" y2="183.35"/><line x1="724.5" y1="183.35" x2="722.9" y2="183.35"/><line x1="411.5" y1="181.43" x2="413.1" y2="181.43"/><line x1="724.5" y1="181.43" x2="722.9" y2="181.43"/><line x1="411.5" y1="179.73" x2="413.1" y2="179.73"/><line x1="724.5" y1="179.73" x2="722.9" y2="179.73"/><line x1="411.5" y1="178.21" x2="414.5" y2="178.21"/><line x1="724.5" y1="178.21" x2="721.5" y2="178.21"/><line x1="411.5" y1="168.24" x2="413.1" y2="168.24"/><line x1="724.5" y1="168.24" x2="722.9" y2="168.24"/><line x1="411.5" y1="162.4" x2="413.1" y2="162.4"/><line x1="724.5" y1="162.4" x2="722.9" y2="162.4"/><line x1="411.5" y1="158.26" x2="413.1" y2="158.26"/><line x1="724.5" y1="158.26" x2="722.9" y2="158.26"/><line x1="411.5" y1="155.05" x2="413.1" y2="155.05"/><line x1="724.5" y1="155.05" x2="722.9" y2="155.05"/><line x1="411.5" y1="152.42" x2="413.1" y2="152.42"/><line x1="724.5" y1="152.42" x2="722.9" y2="152.42"/><line x1="411.5" y1="150.21" x2="413.1" y2="150.21"/><line x1="724.5" y1="150.21" x2="722.9" y2="150.21"/><line x1="411.5" y1="148.28" x2="413.1" y2="148.28"/><line x1="724.5" y1="148.28" x2="722.9" y2="148.28"/><line x1="411.5" y1="146.59" x2="413.1" y2="146.59"/><line x1="724.5" y1="146.59" x2="722.9" y2="146.59"/><line x1="411.5" y1="145.07" x2="414.5" y2="145.07"/><line x1="724.5" y1="145.07" x2="721.5" y2="145.07"/><line x1="411.5" y1="135.09" x2="413.1" y2="135.09"/><line x1="724.5" y1="135.09" x2="722.9" y2="135.09"/><line x1="411.5" y1="129.26" x2="413.1" y2="129.26"/><line x1="724.5" y1="129.26" x2="722.9" y2="129.26"/><line x1="411.5" y1="125.12" x2="413.1" y2="125.12"/><line x1="724.5" y1="125.12" x2="722.9" y2="125.12"/><line x1="411.5" y1="121.91" x2="413.1" y2="121.91"/><line x1="724.5" y1="121.91" x2="722.9" y2="121.91"/><line x1="411.5" y1="119.28" x2="413.1" y2="119.28"/><line x1="724.5" y1="119.28" x2="722.9" y2="119.28"/><line x1="411.5" y1="117.06" x2="413.1" y2="117.06"/><line x1="724.5" y1="117.06" x2="722.9" y2="117.06"/><line x1="411.5" y1="115.14" x2="413.1" y2="115.14"/><line x1="724.5" y1="115.14" x2="722.9" y2="115.14"/><line x1="411.5" y1="113.45" x2="413.1" y2="113.45"/><line x1="724.5" y1="113.45" x2="722.9" y2="113.45"/><line x1="411.5" y1="111.93" x2="414.5" y2="111.93"/><line x1="724.5" y1="111.93" x2="721.5" y2="111.93"/><line x1="411.5" y1="101.95" x2="413.1" y2="101.95"/><line x1="724.5" y1="101.95" x2="722.9" y2="101.95"/><line x1="411.5" y1="96.12" x2="413.1" y2="96.12"/><line x1="724.5" y1="96.12" x2="722.9" y2="96.12"/><line x1="411.5" y1="91.97" x2="413.1" y2="91.97"/><line x1="724.5" y1="91.97" x2="722.9" y2="91.97"/><line x1="411.5" y1="88.76" x2="413.1" y2="88.76"/><line x1="724.5" y1="88.76" x2="722.9" y2="88.76"/><line x1="411.5" y1="86.14" x2="413.1" y2="86.14"/><line x1="724.5" y1="86.14" x2="722.9" y2="86.14"/><line x1="411.5" y1="83.92" x2="413.1" y2="83.92"/><line x1="724.5" y1="83.92" x2="722.9" y2="83.92"/><line x1="411.5" y1="82" x2="413.1" y2="82"/><line x1="724.5" y1="82" x2="722.9" y2="82"/><line x1="411.5" y1="80.3" x2="413.1" y2="80.3"/><line x1="724.5" y1="80.3" x2="722.9" y2="80.3"/><line x1="411.5" y1="78.79" x2="414.5" y2="78.79"/><line x1="724.5" y1="78.79" x2="721.5" y2="78.79"/><line x1="411.5" y1="68.81" x2="413.1" y2="68.81"/><line x1="724.5" y1="68.81" x2="722.9" y2="68.81"/><line x1="411.5" y1="62.97" x2="413.1" y2="62.97"/><line x1="724.5" y1="62.97" x2="722.9" y2="62.97"/><line x1="411.5" y1="58.83" x2="413.1" y2="58.83"/><line x1="724.5" y1="58.83" x2="722.9" y2="58.83"/><line x1="411.5" y1="55.62" x2="413.1" y2="55.62"/><line x1="724.5" y1="55.62" x2="722.9" y2="55.62"/><line x1="411.5" y1="53" x2="413.1" y2="53"/><line x1="724.5" y1="53" x2="722.9" y2="53"/><line x1="411.5" y1="50.78" x2="413.1" y2="50.78"/><line x1="724.5" y1="50.78" x2="722.9" y2="50.78"/><line x1="411.5" y1="48.85" x2="413.1" y2="48.85"/><line x1="724.5" y1="48.85" x2="722.9" y2="48.85"/><line x1="411.5" y1="47.16" x2="413.1" y2="47.16"/><line x1="724.5" y1="47.16" x2="722.9" y2="47.16"/><line x1="411.5" y1="45.64" x2="414.5" y2="45.64"/><line x1="724.5" y1="45.64" x2="721.5" y2="45.64"/><line x1="411.5" y1="35.67" x2="413.1" y2="35.67"/><line x1="724.5" y1="35.67" x2="722.9" y2="35.67"/><line x1="411.5" y1="29.83" x2="413.1" y2="29.83"/><line x1="724.5" y1="29.83" x2="722.9" y2="29.83"/><line x1="411.5" y1="25.69" x2="413.1" y2="25.69"/><line x1="724.5" y1="25.69" x2="722.9" y2="25.69"/><line x1="411.5" y1="22.48" x2="413.1" y2="22.48"/><line x1="724.5" y1="22.48" x2="722.9" y2="22.48"/><line x1="411.5" y1="19.85" x2="413.1" y2="19.85"/><line x1="724.5" y1="19.85" x2="722.9" y2="19.85"/><line x1="411.5" y1="17.63" x2="413.1" y2="17.63"/><line x1="724.5" y1="17.63" x2="722.9" y2="17.63"/><line x1="411.5" y1="15.71" x2="413.1" y2="15.71"/><line x1="724.5" y1="15.71" x2="722.9" y2="15.71"/><line x1="411.5" y1="14.02" x2="413.1" y2="14.02"/><line x1="724.5" y1="14.02" x2="722.9" y2="14.02"/><line x1="411.5" y1="12.5" x2="414.5" y2="12.5"/><line x1="724.5" y1="12.5" x2="721.5" y2="12.5"/></g>
<g><rect x="409.7" y="28.1" width="3.6" height="3.6" fill="none" stroke="#56B4E9" stroke-opacity="0.45" stroke-width="0.6"/><rect x="427.09" y="37.94" width="3.6" height="3.6" fill="none" stroke="#56B4E9" stroke-opacity="0.45" stroke-width="0.6"/><rect x="444.48" y="47.78" width="3.6" height="3.6" fill="none" stroke="#56B4E9" stroke-opacity="0.45" stroke-width="0.6"/><rect x="461.87" y="57.62" width="3.6" height="3.6" fill="none" stroke="#56B4E9" stroke-opacity="0.45" stroke-width="0.6"/><rect x="479.26" y="67.46" width="3.6" height="3.6" fill="none" stroke="#56B4E9" stroke-opacity="0.45" stroke-width="0.6"/><rect x="496.64" y="77.31" width="3.6" height="3.6" fill="none" stroke="#56B4E9" stroke-opacity="0.45" stroke-width="0.6"/><rect x="514.03" y="87.15" width="3.6" height="3.6" fill="none" stroke="#56B4E9" stroke-opacity="0.45" stroke-width="0.6"/><rect x="531.42" y="96.99" width="3.6" height="3.6" fill="none" stroke="#56B4E9" stroke-opacity="0.45" stroke-width="0.6"/><rect x="548.81" y="106.83" width="3.6" height="3.6" fill="none" stroke="#56B4E9" stroke-opacity="0.45" stroke-width="0.6"/><rect x="566.2" y="116.67" width="3.6" height="3.6" fill="none" stroke="#56B4E9" stroke-opacity="0.45" stroke-width="0.6"/><rect x="583.59" y="126.51" width="3.6" height="3.6" fill="none" stroke="#56B4E9" stroke-opacity="0.45" stroke-width="0.6"/><rect x="600.98" y="136.35" width="3.6" height="3.6" fill="none" stroke="#56B4E9" stroke-opacity="0.45" stroke-width="0.6"/><rect x="618.37" y="146.19" width="3.6" height="3.6" fill="none" stroke="#56B4E9" stroke-opacity="0.45" stroke-width="0.6"/><rect x="635.76" y="156.04" width="3.6" height="3.6" fill="none" stroke="#56B4E9" stroke-opacity="0.45" stroke-width="0.6"/><rect x="653.14" y="165.88" width="3.6" height="3.6" fill="none" stroke="#56B4E9" stroke-opacity="0.45" stroke-width="0.6"/><rect x="670.53" y="175.72" width="3.6" height="3.6" fill="none" stroke="#56B4E9" stroke-opacity="0.45" stroke-width="0.6"/><rect x="687.92" y="185.56" width="3.6" height="3.6" fill="none" stroke="#56B4E9" stroke-opacity="0.45" stroke-width="0.6"/><rect x="705.31" y="195.4" width="3.6" height="3.6" fill="none" stroke="#56B4E9" stroke-opacity="0.45" stroke-width="0.6"/><circle cx="411.5" cy="35.6" r="1.8" fill="none" stroke="#F0E442" stroke-opacity="0.5" stroke-width="0.6"/><circle cx="428.89" cy="45.55" r="1.8" fill="none" stroke="#F0E442" stroke-opacity="0.5" stroke-width="0.6"/><circle cx="446.28" cy="55.51" r="1.8" fill="none" stroke="#F0E442" stroke-opacity="0.5" stroke-width="0.6"/><circle cx="463.67" cy="65.46" r="1.8" fill="none" stroke="#F0E442" stroke-opacity="0.5" stroke-width="0.6"/><circle cx="481.06" cy="75.41" r="1.8" fill="none" stroke="#F0E442" stroke-opacity="0.5" stroke-width="0.6"/><circle cx="498.44" cy="85.36" r="1.8" fill="none" stroke="#F0E442" stroke-opacity="0.5" stroke-width="0.6"/><circle cx="515.83" cy="95.32" r="1.8" fill="none" stroke="#F0E442" stroke-opacity="0.5" stroke-width="0.6"/><circle cx="533.22" cy="105.27" r="1.8" fill="none" stroke="#F0E442" stroke-opacity="0.5" stroke-width="0.6"/><circle cx="550.61" cy="115.22" r="1.8" fill="none" stroke="#F0E442" stroke-opacity="0.5" stroke-width="0.6"/><circle cx="568" cy="125.18" r="1.8" fill="none" stroke="#F0E442" stroke-opacity="0.5" stroke-width="0.6"/><circle cx="585.39" cy="135.13" r="1.8" fill="none" stroke="#F0E442" stroke-opacity="0.5" stroke-width="0.6"/><circle cx="602.78" cy="145.08" r="1.8" fill="none" stroke="#F0E442" stroke-opacity="0.5" stroke-width="0.6"/><circle cx="620.17" cy="155.04" r="1.8" fill="none" stroke="#F0E442" stroke-opacity="0.5" stroke-width="0.6"/><circle cx="637.56" cy="164.99" r="1.8" fill="none" stroke="#F0E442" stroke-opacity="0.5" stroke-width="0.6"/><circle cx="654.94" cy="174.94" r="1.8" fill="none" stroke="#F0E442" stroke-opacity="0.5" stroke-width="0.6"/><circle cx="672.33" cy="184.89" r="1.8" fill="none" stroke="#F0E442" stroke-opacity="0.5" stroke-width="0.6"/><circle cx="689.72" cy="194.85" r="1.8" fill="none" stroke="#F0E442" stroke-opacity="0.5" stroke-width="0.6"/><circle cx="707.11" cy="204.8" r="1.8" fill="none" stroke="#F0E442" stroke-opacity="0.5" stroke-width="0.6"/><rect x="409.7" y="44.9" width="3.6" height="3.6" fill="#9400D3"/><rect x="427.09" y="55" width="3.6" height="3.6" fill="#9400D3"/><rect x="444.48" y="65.1" width="3.6" height="3.6" fill="#9400D3"/><rect x="461.87" y="75.1" width="3.6" height="3.6" fill="#9400D3"/><rect x="479.26" y="84.9" width="3.6" height="3.6" fill="#9400D3"/><rect x="496.64" y="95.2" width="3.6" height="3.6" fill="#9400D3"/><rect x="514.03" y="104.9" width="3.6" height="3.6" fill="#9400D3"/><rect x="531.42" y="114.9" width="3.6" height="3.6" fill="#9400D3"/><rect x="548.81" y="124.7" width="3.6" height="3.6" fill="#9400D3"/><rect x="566.2" y="135" width="3.6" height="3.6" fill="#9400D3"/><rect x="583.59" y="144.9" width="3.6" height="3.6" fill="#9400D3"/><rect x="600.98" y="154.7" width="3.6" height="3.6" fill="#9400D3"/><rect x="618.37" y="164.3" width="3.6" height="3.6" fill="#9400D3"/><rect x="635.76" y="174.3" width="3.6" height="3.6" fill="#9400D3"/><rect x="653.14" y="184" width="3.6" height="3.6" fill="#9400D3"/><rect x="670.53" y="193.3" width="3.6" height="3.6" fill="#9400D3"/><rect x="687.92" y="202.3" width="3.6" height="3.6" fill="#9400D3"/><rect x="705.31" y="210.3" width="3.6" height="3.6" fill="#9400D3"/><rect x="409.7" y="80.2" width="3.6" height="3.6" fill="#9400D3"/></g>
<g font-family="Liberation Sans, sans-serif" font-size="8" fill="#1a1a1a" stroke="#1a1a1a" stroke-width="0.12"><text x="397.2" y="17.8" text-anchor="end">10</text><text x="397.6" y="14.3" font-size="5.5">0</text><text x="397.2" y="50.94" text-anchor="end">10</text><text x="397.6" y="47.44" font-size="5.5">−1</text><text x="397.2" y="84.09" text-anchor="end">10</text><text x="397.6" y="80.59" font-size="5.5">−2</text><text x="397.2" y="117.23" text-anchor="end">10</text><text x="397.6" y="113.73" font-size="5.5">−3</text><text x="397.2" y="150.37" text-anchor="end">10</text><text x="397.6" y="146.87" font-size="5.5">−4</text><text x="397.2" y="183.51" text-anchor="end">10</text><text x="397.6" y="180.01" font-size="5.5">−5</text><text x="397.2" y="216.66" text-anchor="end">10</text><text x="397.6" y="213.16" font-size="5.5">−6</text><text x="397.2" y="249.8" text-anchor="end">10</text><text x="397.6" y="246.3" font-size="5.5">−7</text><text x="411.5" y="255.3" text-anchor="middle">2</text><text x="446.28" y="255.3" text-anchor="middle">4</text><text x="481.06" y="255.3" text-anchor="middle">6</text><text x="515.83" y="255.3" text-anchor="middle">8</text><text x="550.61" y="255.3" text-anchor="middle">10</text><text x="585.39" y="255.3" text-anchor="middle">12</text><text x="620.17" y="255.3" text-anchor="middle">14</text><text x="654.94" y="255.3" text-anchor="middle">16</text><text x="689.72" y="255.3" text-anchor="middle">18</text><text x="724.5" y="255.3" text-anchor="middle">20</text></g>
<text transform="translate(372.6,129) rotate(-90)" text-anchor="middle" font-family="Liberation Serif, serif" font-size="7.3" fill="#111">Frequency (Hz)</text>
<text x="568" y="264.8" text-anchor="middle" font-family="Liberation Serif, serif" font-size="6.3" fill="#111">N</text>
<text x="176.6" y="289.8" text-anchor="middle" font-family="Liberation Serif, serif" font-weight="bold" font-size="18" fill="#111"><tspan font-weight="normal" font-size="16.8" stroke="#111" stroke-width="0.45">(</tspan>a<tspan font-weight="normal" font-size="16.8" stroke="#111" stroke-width="0.45">)</tspan></text>
<text x="550.2" y="289.8" text-anchor="middle" font-family="Liberation Serif, serif" font-weight="bold" font-size="18" fill="#111"><tspan font-weight="normal" font-size="16.8" stroke="#111" stroke-width="0.45">(</tspan>b<tspan font-weight="normal" font-size="16.8" stroke="#111" stroke-width="0.45">)</tspan></text>
</svg></body></html>
